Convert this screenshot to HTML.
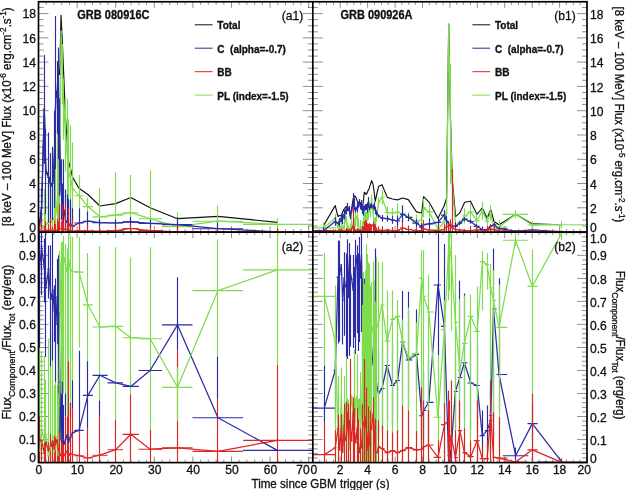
<!DOCTYPE html>
<html><head><meta charset="utf-8"><title>GRB flux</title>
<style>
html,body{margin:0;padding:0;background:#fff;}
body{width:626px;height:490px;overflow:hidden;font-family:"Liberation Sans",sans-serif;}
svg{display:block;will-change:transform;}
text{font-family:"Liberation Sans",sans-serif;fill:#111;stroke:#111;stroke-width:0.3px}
</style></head><body>
<svg width="626" height="490" viewBox="0 0 626 490">
<rect width="626" height="490" fill="#fff"/>
<defs>
<clipPath id="ca1"><rect x="38.5" y="1.75" width="274.3" height="230.35"/></clipPath>
<clipPath id="ca2"><rect x="38.5" y="232.1" width="274.3" height="230.50000000000003"/></clipPath>
<clipPath id="cb1"><rect x="312.8" y="1.75" width="274.2" height="230.35"/></clipPath>
<clipPath id="cb2"><rect x="312.8" y="232.1" width="274.2" height="230.50000000000003"/></clipPath>
</defs>
<path id="ticks" d="M38.5 462.6L38.5 456.6M38.5 1.8L38.5 7.8M38.5 232.1L38.5 238.1M38.5 232.1L38.5 226.1M46.2 462.6L46.2 459.6M46.2 1.8L46.2 4.8M46.2 232.1L46.2 235.1M46.2 232.1L46.2 229.1M53.9 462.6L53.9 459.6M53.9 1.8L53.9 4.8M53.9 232.1L53.9 235.1M53.9 232.1L53.9 229.1M61.7 462.6L61.7 459.6M61.7 1.8L61.7 4.8M61.7 232.1L61.7 235.1M61.7 232.1L61.7 229.1M69.4 462.6L69.4 459.6M69.4 1.8L69.4 4.8M69.4 232.1L69.4 235.1M69.4 232.1L69.4 229.1M77.1 462.6L77.1 456.6M77.1 1.8L77.1 7.8M77.1 232.1L77.1 238.1M77.1 232.1L77.1 226.1M84.8 462.6L84.8 459.6M84.8 1.8L84.8 4.8M84.8 232.1L84.8 235.1M84.8 232.1L84.8 229.1M92.5 462.6L92.5 459.6M92.5 1.8L92.5 4.8M92.5 232.1L92.5 235.1M92.5 232.1L92.5 229.1M100.3 462.6L100.3 459.6M100.3 1.8L100.3 4.8M100.3 232.1L100.3 235.1M100.3 232.1L100.3 229.1M108.0 462.6L108.0 459.6M108.0 1.8L108.0 4.8M108.0 232.1L108.0 235.1M108.0 232.1L108.0 229.1M115.7 462.6L115.7 456.6M115.7 1.8L115.7 7.8M115.7 232.1L115.7 238.1M115.7 232.1L115.7 226.1M123.4 462.6L123.4 459.6M123.4 1.8L123.4 4.8M123.4 232.1L123.4 235.1M123.4 232.1L123.4 229.1M131.1 462.6L131.1 459.6M131.1 1.8L131.1 4.8M131.1 232.1L131.1 235.1M131.1 232.1L131.1 229.1M138.9 462.6L138.9 459.6M138.9 1.8L138.9 4.8M138.9 232.1L138.9 235.1M138.9 232.1L138.9 229.1M146.6 462.6L146.6 459.6M146.6 1.8L146.6 4.8M146.6 232.1L146.6 235.1M146.6 232.1L146.6 229.1M154.3 462.6L154.3 456.6M154.3 1.8L154.3 7.8M154.3 232.1L154.3 238.1M154.3 232.1L154.3 226.1M162.0 462.6L162.0 459.6M162.0 1.8L162.0 4.8M162.0 232.1L162.0 235.1M162.0 232.1L162.0 229.1M169.7 462.6L169.7 459.6M169.7 1.8L169.7 4.8M169.7 232.1L169.7 235.1M169.7 232.1L169.7 229.1M177.5 462.6L177.5 459.6M177.5 1.8L177.5 4.8M177.5 232.1L177.5 235.1M177.5 232.1L177.5 229.1M185.2 462.6L185.2 459.6M185.2 1.8L185.2 4.8M185.2 232.1L185.2 235.1M185.2 232.1L185.2 229.1M192.9 462.6L192.9 456.6M192.9 1.8L192.9 7.8M192.9 232.1L192.9 238.1M192.9 232.1L192.9 226.1M200.6 462.6L200.6 459.6M200.6 1.8L200.6 4.8M200.6 232.1L200.6 235.1M200.6 232.1L200.6 229.1M208.3 462.6L208.3 459.6M208.3 1.8L208.3 4.8M208.3 232.1L208.3 235.1M208.3 232.1L208.3 229.1M216.1 462.6L216.1 459.6M216.1 1.8L216.1 4.8M216.1 232.1L216.1 235.1M216.1 232.1L216.1 229.1M223.8 462.6L223.8 459.6M223.8 1.8L223.8 4.8M223.8 232.1L223.8 235.1M223.8 232.1L223.8 229.1M231.5 462.6L231.5 456.6M231.5 1.8L231.5 7.8M231.5 232.1L231.5 238.1M231.5 232.1L231.5 226.1M239.2 462.6L239.2 459.6M239.2 1.8L239.2 4.8M239.2 232.1L239.2 235.1M239.2 232.1L239.2 229.1M246.9 462.6L246.9 459.6M246.9 1.8L246.9 4.8M246.9 232.1L246.9 235.1M246.9 232.1L246.9 229.1M254.7 462.6L254.7 459.6M254.7 1.8L254.7 4.8M254.7 232.1L254.7 235.1M254.7 232.1L254.7 229.1M262.4 462.6L262.4 459.6M262.4 1.8L262.4 4.8M262.4 232.1L262.4 235.1M262.4 232.1L262.4 229.1M270.1 462.6L270.1 456.6M270.1 1.8L270.1 7.8M270.1 232.1L270.1 238.1M270.1 232.1L270.1 226.1M277.8 462.6L277.8 459.6M277.8 1.8L277.8 4.8M277.8 232.1L277.8 235.1M277.8 232.1L277.8 229.1M285.5 462.6L285.5 459.6M285.5 1.8L285.5 4.8M285.5 232.1L285.5 235.1M285.5 232.1L285.5 229.1M293.3 462.6L293.3 459.6M293.3 1.8L293.3 4.8M293.3 232.1L293.3 235.1M293.3 232.1L293.3 229.1M301.0 462.6L301.0 459.6M301.0 1.8L301.0 4.8M301.0 232.1L301.0 235.1M301.0 232.1L301.0 229.1M308.7 462.6L308.7 456.6M308.7 1.8L308.7 7.8M308.7 232.1L308.7 238.1M308.7 232.1L308.7 226.1M312.8 462.6L312.8 456.6M312.8 1.8L312.8 7.8M312.8 232.1L312.8 238.1M312.8 232.1L312.8 226.1M319.7 462.6L319.7 459.6M319.7 1.8L319.7 4.8M319.7 232.1L319.7 235.1M319.7 232.1L319.7 229.1M326.5 462.6L326.5 459.6M326.5 1.8L326.5 4.8M326.5 232.1L326.5 235.1M326.5 232.1L326.5 229.1M333.4 462.6L333.4 459.6M333.4 1.8L333.4 4.8M333.4 232.1L333.4 235.1M333.4 232.1L333.4 229.1M340.2 462.6L340.2 456.6M340.2 1.8L340.2 7.8M340.2 232.1L340.2 238.1M340.2 232.1L340.2 226.1M347.1 462.6L347.1 459.6M347.1 1.8L347.1 4.8M347.1 232.1L347.1 235.1M347.1 232.1L347.1 229.1M353.9 462.6L353.9 459.6M353.9 1.8L353.9 4.8M353.9 232.1L353.9 235.1M353.9 232.1L353.9 229.1M360.8 462.6L360.8 459.6M360.8 1.8L360.8 4.8M360.8 232.1L360.8 235.1M360.8 232.1L360.8 229.1M367.6 462.6L367.6 456.6M367.6 1.8L367.6 7.8M367.6 232.1L367.6 238.1M367.6 232.1L367.6 226.1M374.5 462.6L374.5 459.6M374.5 1.8L374.5 4.8M374.5 232.1L374.5 235.1M374.5 232.1L374.5 229.1M381.4 462.6L381.4 459.6M381.4 1.8L381.4 4.8M381.4 232.1L381.4 235.1M381.4 232.1L381.4 229.1M388.2 462.6L388.2 459.6M388.2 1.8L388.2 4.8M388.2 232.1L388.2 235.1M388.2 232.1L388.2 229.1M395.1 462.6L395.1 456.6M395.1 1.8L395.1 7.8M395.1 232.1L395.1 238.1M395.1 232.1L395.1 226.1M401.9 462.6L401.9 459.6M401.9 1.8L401.9 4.8M401.9 232.1L401.9 235.1M401.9 232.1L401.9 229.1M408.8 462.6L408.8 459.6M408.8 1.8L408.8 4.8M408.8 232.1L408.8 235.1M408.8 232.1L408.8 229.1M415.6 462.6L415.6 459.6M415.6 1.8L415.6 4.8M415.6 232.1L415.6 235.1M415.6 232.1L415.6 229.1M422.5 462.6L422.5 456.6M422.5 1.8L422.5 7.8M422.5 232.1L422.5 238.1M422.5 232.1L422.5 226.1M429.3 462.6L429.3 459.6M429.3 1.8L429.3 4.8M429.3 232.1L429.3 235.1M429.3 232.1L429.3 229.1M436.2 462.6L436.2 459.6M436.2 1.8L436.2 4.8M436.2 232.1L436.2 235.1M436.2 232.1L436.2 229.1M443.0 462.6L443.0 459.6M443.0 1.8L443.0 4.8M443.0 232.1L443.0 235.1M443.0 232.1L443.0 229.1M449.9 462.6L449.9 456.6M449.9 1.8L449.9 7.8M449.9 232.1L449.9 238.1M449.9 232.1L449.9 226.1M456.8 462.6L456.8 459.6M456.8 1.8L456.8 4.8M456.8 232.1L456.8 235.1M456.8 232.1L456.8 229.1M463.6 462.6L463.6 459.6M463.6 1.8L463.6 4.8M463.6 232.1L463.6 235.1M463.6 232.1L463.6 229.1M470.5 462.6L470.5 459.6M470.5 1.8L470.5 4.8M470.5 232.1L470.5 235.1M470.5 232.1L470.5 229.1M477.3 462.6L477.3 456.6M477.3 1.8L477.3 7.8M477.3 232.1L477.3 238.1M477.3 232.1L477.3 226.1M484.2 462.6L484.2 459.6M484.2 1.8L484.2 4.8M484.2 232.1L484.2 235.1M484.2 232.1L484.2 229.1M491.0 462.6L491.0 459.6M491.0 1.8L491.0 4.8M491.0 232.1L491.0 235.1M491.0 232.1L491.0 229.1M497.9 462.6L497.9 459.6M497.9 1.8L497.9 4.8M497.9 232.1L497.9 235.1M497.9 232.1L497.9 229.1M504.7 462.6L504.7 456.6M504.7 1.8L504.7 7.8M504.7 232.1L504.7 238.1M504.7 232.1L504.7 226.1M511.6 462.6L511.6 459.6M511.6 1.8L511.6 4.8M511.6 232.1L511.6 235.1M511.6 232.1L511.6 229.1M518.5 462.6L518.5 459.6M518.5 1.8L518.5 4.8M518.5 232.1L518.5 235.1M518.5 232.1L518.5 229.1M525.3 462.6L525.3 459.6M525.3 1.8L525.3 4.8M525.3 232.1L525.3 235.1M525.3 232.1L525.3 229.1M532.2 462.6L532.2 456.6M532.2 1.8L532.2 7.8M532.2 232.1L532.2 238.1M532.2 232.1L532.2 226.1M539.0 462.6L539.0 459.6M539.0 1.8L539.0 4.8M539.0 232.1L539.0 235.1M539.0 232.1L539.0 229.1M545.9 462.6L545.9 459.6M545.9 1.8L545.9 4.8M545.9 232.1L545.9 235.1M545.9 232.1L545.9 229.1M552.7 462.6L552.7 459.6M552.7 1.8L552.7 4.8M552.7 232.1L552.7 235.1M552.7 232.1L552.7 229.1M559.6 462.6L559.6 456.6M559.6 1.8L559.6 7.8M559.6 232.1L559.6 238.1M559.6 232.1L559.6 226.1M566.4 462.6L566.4 459.6M566.4 1.8L566.4 4.8M566.4 232.1L566.4 235.1M566.4 232.1L566.4 229.1M573.3 462.6L573.3 459.6M573.3 1.8L573.3 4.8M573.3 232.1L573.3 235.1M573.3 232.1L573.3 229.1M580.1 462.6L580.1 459.6M580.1 1.8L580.1 4.8M580.1 232.1L580.1 235.1M580.1 232.1L580.1 229.1M587.0 462.6L587.0 456.6M587.0 1.8L587.0 7.8M587.0 232.1L587.0 238.1M587.0 232.1L587.0 226.1M38.5 232.1L48.5 232.1M312.8 232.1L302.8 232.1M312.8 232.1L322.8 232.1M587.0 232.1L577.0 232.1M38.5 226.0L43.5 226.0M312.8 226.0L307.8 226.0M312.8 226.0L317.8 226.0M587.0 226.0L582.0 226.0M38.5 220.0L43.5 220.0M312.8 220.0L307.8 220.0M312.8 220.0L317.8 220.0M587.0 220.0L582.0 220.0M38.5 213.9L43.5 213.9M312.8 213.9L307.8 213.9M312.8 213.9L317.8 213.9M587.0 213.9L582.0 213.9M38.5 207.8L48.5 207.8M312.8 207.8L302.8 207.8M312.8 207.8L322.8 207.8M587.0 207.8L577.0 207.8M38.5 201.8L43.5 201.8M312.8 201.8L307.8 201.8M312.8 201.8L317.8 201.8M587.0 201.8L582.0 201.8M38.5 195.7L43.5 195.7M312.8 195.7L307.8 195.7M312.8 195.7L317.8 195.7M587.0 195.7L582.0 195.7M38.5 189.6L43.5 189.6M312.8 189.6L307.8 189.6M312.8 189.6L317.8 189.6M587.0 189.6L582.0 189.6M38.5 183.5L48.5 183.5M312.8 183.5L302.8 183.5M312.8 183.5L322.8 183.5M587.0 183.5L577.0 183.5M38.5 177.5L43.5 177.5M312.8 177.5L307.8 177.5M312.8 177.5L317.8 177.5M587.0 177.5L582.0 177.5M38.5 171.4L43.5 171.4M312.8 171.4L307.8 171.4M312.8 171.4L317.8 171.4M587.0 171.4L582.0 171.4M38.5 165.3L43.5 165.3M312.8 165.3L307.8 165.3M312.8 165.3L317.8 165.3M587.0 165.3L582.0 165.3M38.5 159.3L48.5 159.3M312.8 159.3L302.8 159.3M312.8 159.3L322.8 159.3M587.0 159.3L577.0 159.3M38.5 153.2L43.5 153.2M312.8 153.2L307.8 153.2M312.8 153.2L317.8 153.2M587.0 153.2L582.0 153.2M38.5 147.1L43.5 147.1M312.8 147.1L307.8 147.1M312.8 147.1L317.8 147.1M587.0 147.1L582.0 147.1M38.5 141.0L43.5 141.0M312.8 141.0L307.8 141.0M312.8 141.0L317.8 141.0M587.0 141.0L582.0 141.0M38.5 135.0L48.5 135.0M312.8 135.0L302.8 135.0M312.8 135.0L322.8 135.0M587.0 135.0L577.0 135.0M38.5 128.9L43.5 128.9M312.8 128.9L307.8 128.9M312.8 128.9L317.8 128.9M587.0 128.9L582.0 128.9M38.5 122.8L43.5 122.8M312.8 122.8L307.8 122.8M312.8 122.8L317.8 122.8M587.0 122.8L582.0 122.8M38.5 116.8L43.5 116.8M312.8 116.8L307.8 116.8M312.8 116.8L317.8 116.8M587.0 116.8L582.0 116.8M38.5 110.7L48.5 110.7M312.8 110.7L302.8 110.7M312.8 110.7L322.8 110.7M587.0 110.7L577.0 110.7M38.5 104.6L43.5 104.6M312.8 104.6L307.8 104.6M312.8 104.6L317.8 104.6M587.0 104.6L582.0 104.6M38.5 98.6L43.5 98.6M312.8 98.6L307.8 98.6M312.8 98.6L317.8 98.6M587.0 98.6L582.0 98.6M38.5 92.5L43.5 92.5M312.8 92.5L307.8 92.5M312.8 92.5L317.8 92.5M587.0 92.5L582.0 92.5M38.5 86.4L48.5 86.4M312.8 86.4L302.8 86.4M312.8 86.4L322.8 86.4M587.0 86.4L577.0 86.4M38.5 80.3L43.5 80.3M312.8 80.3L307.8 80.3M312.8 80.3L317.8 80.3M587.0 80.3L582.0 80.3M38.5 74.3L43.5 74.3M312.8 74.3L307.8 74.3M312.8 74.3L317.8 74.3M587.0 74.3L582.0 74.3M38.5 68.2L43.5 68.2M312.8 68.2L307.8 68.2M312.8 68.2L317.8 68.2M587.0 68.2L582.0 68.2M38.5 62.1L48.5 62.1M312.8 62.1L302.8 62.1M312.8 62.1L322.8 62.1M587.0 62.1L577.0 62.1M38.5 56.1L43.5 56.1M312.8 56.1L307.8 56.1M312.8 56.1L317.8 56.1M587.0 56.1L582.0 56.1M38.5 50.0L43.5 50.0M312.8 50.0L307.8 50.0M312.8 50.0L317.8 50.0M587.0 50.0L582.0 50.0M38.5 43.9L43.5 43.9M312.8 43.9L307.8 43.9M312.8 43.9L317.8 43.9M587.0 43.9L582.0 43.9M38.5 37.9L48.5 37.9M312.8 37.9L302.8 37.9M312.8 37.9L322.8 37.9M587.0 37.9L577.0 37.9M38.5 31.8L43.5 31.8M312.8 31.8L307.8 31.8M312.8 31.8L317.8 31.8M587.0 31.8L582.0 31.8M38.5 25.7L43.5 25.7M312.8 25.7L307.8 25.7M312.8 25.7L317.8 25.7M587.0 25.7L582.0 25.7M38.5 19.6L43.5 19.6M312.8 19.6L307.8 19.6M312.8 19.6L317.8 19.6M587.0 19.6L582.0 19.6M38.5 13.6L48.5 13.6M312.8 13.6L302.8 13.6M312.8 13.6L322.8 13.6M587.0 13.6L577.0 13.6M38.5 7.5L43.5 7.5M312.8 7.5L307.8 7.5M312.8 7.5L317.8 7.5M587.0 7.5L582.0 7.5M38.5 1.4L43.5 1.4M312.8 1.4L307.8 1.4M312.8 1.4L317.8 1.4M587.0 1.4L582.0 1.4M38.5 462.6L48.5 462.6M312.8 462.6L308.3 462.6M312.8 462.6L322.8 462.6M587.0 462.6L577.0 462.6M38.5 458.0L43.5 458.0M312.8 458.0L308.3 458.0M312.8 458.0L317.8 458.0M587.0 458.0L582.0 458.0M38.5 453.4L43.5 453.4M312.8 453.4L308.3 453.4M312.8 453.4L317.8 453.4M587.0 453.4L582.0 453.4M38.5 448.8L43.5 448.8M312.8 448.8L308.3 448.8M312.8 448.8L317.8 448.8M587.0 448.8L582.0 448.8M38.5 444.2L43.5 444.2M312.8 444.2L308.3 444.2M312.8 444.2L317.8 444.2M587.0 444.2L582.0 444.2M38.5 439.6L48.5 439.6M312.8 439.6L308.3 439.6M312.8 439.6L322.8 439.6M587.0 439.6L577.0 439.6M38.5 435.0L43.5 435.0M312.8 435.0L308.3 435.0M312.8 435.0L317.8 435.0M587.0 435.0L582.0 435.0M38.5 430.4L43.5 430.4M312.8 430.4L308.3 430.4M312.8 430.4L317.8 430.4M587.0 430.4L582.0 430.4M38.5 425.8L43.5 425.8M312.8 425.8L308.3 425.8M312.8 425.8L317.8 425.8M587.0 425.8L582.0 425.8M38.5 421.1L43.5 421.1M312.8 421.1L308.3 421.1M312.8 421.1L317.8 421.1M587.0 421.1L582.0 421.1M38.5 416.5L48.5 416.5M312.8 416.5L308.3 416.5M312.8 416.5L322.8 416.5M587.0 416.5L577.0 416.5M38.5 411.9L43.5 411.9M312.8 411.9L308.3 411.9M312.8 411.9L317.8 411.9M587.0 411.9L582.0 411.9M38.5 407.3L43.5 407.3M312.8 407.3L308.3 407.3M312.8 407.3L317.8 407.3M587.0 407.3L582.0 407.3M38.5 402.7L43.5 402.7M312.8 402.7L308.3 402.7M312.8 402.7L317.8 402.7M587.0 402.7L582.0 402.7M38.5 398.1L43.5 398.1M312.8 398.1L308.3 398.1M312.8 398.1L317.8 398.1M587.0 398.1L582.0 398.1M38.5 393.5L48.5 393.5M312.8 393.5L308.3 393.5M312.8 393.5L322.8 393.5M587.0 393.5L577.0 393.5M38.5 388.9L43.5 388.9M312.8 388.9L308.3 388.9M312.8 388.9L317.8 388.9M587.0 388.9L582.0 388.9M38.5 384.3L43.5 384.3M312.8 384.3L308.3 384.3M312.8 384.3L317.8 384.3M587.0 384.3L582.0 384.3M38.5 379.7L43.5 379.7M312.8 379.7L308.3 379.7M312.8 379.7L317.8 379.7M587.0 379.7L582.0 379.7M38.5 375.1L43.5 375.1M312.8 375.1L308.3 375.1M312.8 375.1L317.8 375.1M587.0 375.1L582.0 375.1M38.5 370.5L48.5 370.5M312.8 370.5L308.3 370.5M312.8 370.5L322.8 370.5M587.0 370.5L577.0 370.5M38.5 365.9L43.5 365.9M312.8 365.9L308.3 365.9M312.8 365.9L317.8 365.9M587.0 365.9L582.0 365.9M38.5 361.3L43.5 361.3M312.8 361.3L308.3 361.3M312.8 361.3L317.8 361.3M587.0 361.3L582.0 361.3M38.5 356.7L43.5 356.7M312.8 356.7L308.3 356.7M312.8 356.7L317.8 356.7M587.0 356.7L582.0 356.7M38.5 352.1L43.5 352.1M312.8 352.1L308.3 352.1M312.8 352.1L317.8 352.1M587.0 352.1L582.0 352.1M38.5 347.5L48.5 347.5M312.8 347.5L308.3 347.5M312.8 347.5L322.8 347.5M587.0 347.5L577.0 347.5M38.5 342.8L43.5 342.8M312.8 342.8L308.3 342.8M312.8 342.8L317.8 342.8M587.0 342.8L582.0 342.8M38.5 338.2L43.5 338.2M312.8 338.2L308.3 338.2M312.8 338.2L317.8 338.2M587.0 338.2L582.0 338.2M38.5 333.6L43.5 333.6M312.8 333.6L308.3 333.6M312.8 333.6L317.8 333.6M587.0 333.6L582.0 333.6M38.5 329.0L43.5 329.0M312.8 329.0L308.3 329.0M312.8 329.0L317.8 329.0M587.0 329.0L582.0 329.0M38.5 324.4L48.5 324.4M312.8 324.4L308.3 324.4M312.8 324.4L322.8 324.4M587.0 324.4L577.0 324.4M38.5 319.8L43.5 319.8M312.8 319.8L308.3 319.8M312.8 319.8L317.8 319.8M587.0 319.8L582.0 319.8M38.5 315.2L43.5 315.2M312.8 315.2L308.3 315.2M312.8 315.2L317.8 315.2M587.0 315.2L582.0 315.2M38.5 310.6L43.5 310.6M312.8 310.6L308.3 310.6M312.8 310.6L317.8 310.6M587.0 310.6L582.0 310.6M38.5 306.0L43.5 306.0M312.8 306.0L308.3 306.0M312.8 306.0L317.8 306.0M587.0 306.0L582.0 306.0M38.5 301.4L48.5 301.4M312.8 301.4L308.3 301.4M312.8 301.4L322.8 301.4M587.0 301.4L577.0 301.4M38.5 296.8L43.5 296.8M312.8 296.8L308.3 296.8M312.8 296.8L317.8 296.8M587.0 296.8L582.0 296.8M38.5 292.2L43.5 292.2M312.8 292.2L308.3 292.2M312.8 292.2L317.8 292.2M587.0 292.2L582.0 292.2M38.5 287.6L43.5 287.6M312.8 287.6L308.3 287.6M312.8 287.6L317.8 287.6M587.0 287.6L582.0 287.6M38.5 283.0L43.5 283.0M312.8 283.0L308.3 283.0M312.8 283.0L317.8 283.0M587.0 283.0L582.0 283.0M38.5 278.4L48.5 278.4M312.8 278.4L308.3 278.4M312.8 278.4L322.8 278.4M587.0 278.4L577.0 278.4M38.5 273.8L43.5 273.8M312.8 273.8L308.3 273.8M312.8 273.8L317.8 273.8M587.0 273.8L582.0 273.8M38.5 269.1L43.5 269.1M312.8 269.1L308.3 269.1M312.8 269.1L317.8 269.1M587.0 269.1L582.0 269.1M38.5 264.5L43.5 264.5M312.8 264.5L308.3 264.5M312.8 264.5L317.8 264.5M587.0 264.5L582.0 264.5M38.5 259.9L43.5 259.9M312.8 259.9L308.3 259.9M312.8 259.9L317.8 259.9M587.0 259.9L582.0 259.9M38.5 255.3L48.5 255.3M312.8 255.3L308.3 255.3M312.8 255.3L322.8 255.3M587.0 255.3L577.0 255.3M38.5 250.7L43.5 250.7M312.8 250.7L308.3 250.7M312.8 250.7L317.8 250.7M587.0 250.7L582.0 250.7M38.5 246.1L43.5 246.1M312.8 246.1L308.3 246.1M312.8 246.1L317.8 246.1M587.0 246.1L582.0 246.1M38.5 241.5L43.5 241.5M312.8 241.5L308.3 241.5M312.8 241.5L317.8 241.5M587.0 241.5L582.0 241.5M38.5 236.9L43.5 236.9M312.8 236.9L308.3 236.9M312.8 236.9L317.8 236.9M587.0 236.9L582.0 236.9M38.5 232.3L48.5 232.3M312.8 232.3L308.3 232.3M312.8 232.3L322.8 232.3M587.0 232.3L577.0 232.3" stroke="#444" stroke-width="0.6" fill="none"/>
<g clip-path="url(#ca1)"><polyline points="38.5,230.9 39.5,224.6 41.6,206.4 44.3,108.0 45.8,169.9 48.5,176.0 50.9,184.5 52.8,182.1 54.3,157.8 55.9,91.0 57.2,95.9 58.1,64.3 59.0,74.3 59.9,74.3 61.0,15.4 62.4,43.9 64.0,81.6 65.5,118.0 67.1,139.8 68.6,161.7 70.3,167.8 72.7,177.5 79.0,188.2 87.9,194.5 99.9,206.0 115.7,203.6 130.8,197.5 150.1,207.8 177.5,218.7 218.0,216.3 277.4,222.4" fill="none" stroke="#111" stroke-width="1.2" stroke-linejoin="round"/><polyline points="39.5,230.9 41.6,228.5 44.3,226.0 45.8,224.8 48.5,222.4 50.9,222.4 52.8,220.0 54.3,217.5 55.9,213.9 57.2,201.8 58.1,183.5 59.0,207.8 59.9,171.4 61.0,31.8 62.4,74.3 64.0,109.5 65.5,135.0 67.1,153.2 68.6,171.4 70.3,177.5 72.7,188.8 79.0,195.7 87.9,206.6 99.9,216.8 115.7,215.1 130.8,212.7 150.1,218.7 177.5,226.6 218.0,221.2 277.4,224.3" fill="none" stroke="#7fdc4e" stroke-width="1.25" stroke-linejoin="round"/><line x1="38.5" y1="230.9" x2="40.5" y2="230.9" stroke="#7fdc4e" stroke-width="1.15" /><line x1="39.5" y1="232.1" x2="39.5" y2="221.2" stroke="#7fdc4e" stroke-width="1.15" /><line x1="40.5" y1="228.5" x2="42.9" y2="228.5" stroke="#7fdc4e" stroke-width="1.15" /><line x1="41.5" y1="232.1" x2="41.5" y2="210.2" stroke="#7fdc4e" stroke-width="1.15" /><line x1="42.9" y1="226.0" x2="45.1" y2="226.0" stroke="#7fdc4e" stroke-width="1.15" /><line x1="44.5" y1="232.1" x2="44.5" y2="189.6" stroke="#7fdc4e" stroke-width="1.15" /><line x1="45.1" y1="224.8" x2="47.2" y2="224.8" stroke="#7fdc4e" stroke-width="1.15" /><line x1="45.5" y1="232.1" x2="45.5" y2="194.5" stroke="#7fdc4e" stroke-width="1.15" /><line x1="47.2" y1="222.4" x2="49.7" y2="222.4" stroke="#7fdc4e" stroke-width="1.15" /><line x1="48.5" y1="232.1" x2="48.5" y2="186.0" stroke="#7fdc4e" stroke-width="1.15" /><line x1="49.7" y1="222.4" x2="51.8" y2="222.4" stroke="#7fdc4e" stroke-width="1.15" /><line x1="50.5" y1="232.1" x2="50.5" y2="179.9" stroke="#7fdc4e" stroke-width="1.15" /><line x1="51.8" y1="220.0" x2="53.6" y2="220.0" stroke="#7fdc4e" stroke-width="1.15" /><line x1="52.5" y1="232.1" x2="52.5" y2="165.3" stroke="#7fdc4e" stroke-width="1.15" /><line x1="53.6" y1="217.5" x2="55.1" y2="217.5" stroke="#7fdc4e" stroke-width="1.15" /><line x1="54.5" y1="232.1" x2="54.5" y2="156.8" stroke="#7fdc4e" stroke-width="1.15" /><line x1="55.1" y1="213.9" x2="56.5" y2="213.9" stroke="#7fdc4e" stroke-width="1.15" /><line x1="55.5" y1="232.1" x2="55.5" y2="147.1" stroke="#7fdc4e" stroke-width="1.15" /><line x1="56.5" y1="201.8" x2="57.6" y2="201.8" stroke="#7fdc4e" stroke-width="1.15" /><line x1="57.5" y1="232.1" x2="57.5" y2="128.9" stroke="#7fdc4e" stroke-width="1.15" /><line x1="57.6" y1="183.5" x2="58.5" y2="183.5" stroke="#7fdc4e" stroke-width="1.15" /><line x1="58.5" y1="232.1" x2="58.5" y2="104.6" stroke="#7fdc4e" stroke-width="1.15" /><line x1="58.5" y1="207.8" x2="59.4" y2="207.8" stroke="#7fdc4e" stroke-width="1.15" /><line x1="58.5" y1="232.1" x2="58.5" y2="159.3" stroke="#7fdc4e" stroke-width="1.15" /><line x1="59.4" y1="171.4" x2="60.5" y2="171.4" stroke="#7fdc4e" stroke-width="1.15" /><line x1="59.5" y1="220.0" x2="59.5" y2="122.8" stroke="#7fdc4e" stroke-width="1.15" /><line x1="60.5" y1="31.8" x2="61.7" y2="31.8" stroke="#7fdc4e" stroke-width="1.15" /><line x1="61.5" y1="33.0" x2="61.5" y2="30.6" stroke="#7fdc4e" stroke-width="1.15" /><line x1="61.7" y1="74.3" x2="63.2" y2="74.3" stroke="#7fdc4e" stroke-width="1.15" /><line x1="62.5" y1="104.6" x2="62.5" y2="43.9" stroke="#7fdc4e" stroke-width="1.15" /><line x1="63.2" y1="109.5" x2="64.7" y2="109.5" stroke="#7fdc4e" stroke-width="1.15" /><line x1="63.5" y1="139.8" x2="63.5" y2="79.1" stroke="#7fdc4e" stroke-width="1.15" /><line x1="64.7" y1="135.0" x2="66.3" y2="135.0" stroke="#7fdc4e" stroke-width="1.15" /><line x1="65.5" y1="171.4" x2="65.5" y2="98.6" stroke="#7fdc4e" stroke-width="1.15" /><line x1="66.3" y1="153.2" x2="67.8" y2="153.2" stroke="#7fdc4e" stroke-width="1.15" /><line x1="67.5" y1="207.8" x2="67.5" y2="98.6" stroke="#7fdc4e" stroke-width="1.15" /><line x1="67.8" y1="171.4" x2="69.5" y2="171.4" stroke="#7fdc4e" stroke-width="1.15" /><line x1="68.5" y1="223.6" x2="68.5" y2="119.2" stroke="#7fdc4e" stroke-width="1.15" /><line x1="69.5" y1="177.5" x2="71.5" y2="177.5" stroke="#7fdc4e" stroke-width="1.15" /><line x1="70.5" y1="229.7" x2="70.5" y2="125.3" stroke="#7fdc4e" stroke-width="1.15" /><line x1="71.5" y1="188.8" x2="74.4" y2="188.8" stroke="#7fdc4e" stroke-width="1.15" /><line x1="72.5" y1="232.1" x2="72.5" y2="142.6" stroke="#7fdc4e" stroke-width="1.15" /><line x1="74.4" y1="195.7" x2="83.7" y2="195.7" stroke="#7fdc4e" stroke-width="1.15" /><line x1="79.5" y1="216.3" x2="79.5" y2="175.0" stroke="#7fdc4e" stroke-width="1.15" /><line x1="82.9" y1="206.6" x2="92.9" y2="206.6" stroke="#7fdc4e" stroke-width="1.15" /><line x1="87.5" y1="215.1" x2="87.5" y2="198.1" stroke="#7fdc4e" stroke-width="1.15" /><line x1="92.5" y1="216.8" x2="107.6" y2="216.8" stroke="#7fdc4e" stroke-width="1.15" /><line x1="99.5" y1="232.1" x2="99.5" y2="187.7" stroke="#7fdc4e" stroke-width="1.15" /><line x1="107.6" y1="215.1" x2="123.0" y2="215.1" stroke="#7fdc4e" stroke-width="1.15" /><line x1="115.5" y1="232.1" x2="115.5" y2="172.6" stroke="#7fdc4e" stroke-width="1.15" /><line x1="122.6" y1="212.7" x2="138.9" y2="212.7" stroke="#7fdc4e" stroke-width="1.15" /><line x1="130.5" y1="232.1" x2="130.5" y2="175.0" stroke="#7fdc4e" stroke-width="1.15" /><line x1="138.5" y1="218.7" x2="162.0" y2="218.7" stroke="#7fdc4e" stroke-width="1.15" /><line x1="150.5" y1="232.1" x2="150.5" y2="170.2" stroke="#7fdc4e" stroke-width="1.15" /><line x1="162.0" y1="226.6" x2="192.5" y2="226.6" stroke="#7fdc4e" stroke-width="1.15" /><line x1="177.5" y1="232.1" x2="177.5" y2="212.1" stroke="#7fdc4e" stroke-width="1.15" /><line x1="192.5" y1="221.2" x2="243.1" y2="221.2" stroke="#7fdc4e" stroke-width="1.15" /><line x1="217.5" y1="232.1" x2="217.5" y2="205.4" stroke="#7fdc4e" stroke-width="1.15" /><line x1="243.1" y1="224.3" x2="314.5" y2="224.3" stroke="#7fdc4e" stroke-width="1.15" /><line x1="277.5" y1="230.4" x2="277.5" y2="218.3" stroke="#7fdc4e" stroke-width="1.15" /><polyline points="39.5,226.0 41.6,207.8 44.3,109.5 45.8,171.4 48.5,177.5 50.9,186.0 52.8,183.5 54.3,159.3 55.9,92.5 57.2,97.3 58.1,65.8 59.0,110.7 59.9,147.1 61.0,189.6 62.4,207.8 64.0,210.2 65.5,220.0 67.1,222.4 68.6,226.0 70.3,223.8 72.7,226.4 79.0,223.0 87.9,221.2 99.9,222.6 115.7,223.0 130.8,221.8 150.1,223.4 177.5,224.6 218.0,228.7 277.4,231.9" fill="none" stroke="#2b2ba6" stroke-width="1.25" stroke-linejoin="round"/><line x1="38.5" y1="226.0" x2="40.5" y2="226.0" stroke="#2b2ba6" stroke-width="1.15" /><line x1="39.5" y1="232.1" x2="39.5" y2="218.7" stroke="#2b2ba6" stroke-width="1.15" /><line x1="40.5" y1="207.8" x2="42.9" y2="207.8" stroke="#2b2ba6" stroke-width="1.15" /><line x1="41.5" y1="226.0" x2="41.5" y2="189.6" stroke="#2b2ba6" stroke-width="1.15" /><line x1="42.9" y1="109.5" x2="45.1" y2="109.5" stroke="#2b2ba6" stroke-width="1.15" /><line x1="44.5" y1="164.1" x2="44.5" y2="54.9" stroke="#2b2ba6" stroke-width="1.15" /><line x1="45.1" y1="171.4" x2="47.2" y2="171.4" stroke="#2b2ba6" stroke-width="1.15" /><line x1="45.5" y1="213.9" x2="45.5" y2="128.9" stroke="#2b2ba6" stroke-width="1.15" /><line x1="47.2" y1="177.5" x2="49.7" y2="177.5" stroke="#2b2ba6" stroke-width="1.15" /><line x1="48.5" y1="222.4" x2="48.5" y2="132.6" stroke="#2b2ba6" stroke-width="1.15" /><line x1="49.7" y1="186.0" x2="51.8" y2="186.0" stroke="#2b2ba6" stroke-width="1.15" /><line x1="50.5" y1="218.7" x2="50.5" y2="153.2" stroke="#2b2ba6" stroke-width="1.15" /><line x1="51.8" y1="183.5" x2="53.6" y2="183.5" stroke="#2b2ba6" stroke-width="1.15" /><line x1="52.5" y1="220.0" x2="52.5" y2="147.1" stroke="#2b2ba6" stroke-width="1.15" /><line x1="53.6" y1="159.3" x2="55.1" y2="159.3" stroke="#2b2ba6" stroke-width="1.15" /><line x1="54.5" y1="207.8" x2="54.5" y2="110.7" stroke="#2b2ba6" stroke-width="1.15" /><line x1="55.1" y1="92.5" x2="56.5" y2="92.5" stroke="#2b2ba6" stroke-width="1.15" /><line x1="55.5" y1="169.0" x2="55.5" y2="16.0" stroke="#2b2ba6" stroke-width="1.15" /><line x1="56.5" y1="97.3" x2="57.6" y2="97.3" stroke="#2b2ba6" stroke-width="1.15" /><line x1="57.5" y1="133.8" x2="57.5" y2="60.9" stroke="#2b2ba6" stroke-width="1.15" /><line x1="57.6" y1="65.8" x2="58.5" y2="65.8" stroke="#2b2ba6" stroke-width="1.15" /><line x1="58.5" y1="84.0" x2="58.5" y2="47.6" stroke="#2b2ba6" stroke-width="1.15" /><line x1="58.5" y1="110.7" x2="59.4" y2="110.7" stroke="#2b2ba6" stroke-width="1.15" /><line x1="58.5" y1="159.3" x2="58.5" y2="62.1" stroke="#2b2ba6" stroke-width="1.15" /><line x1="59.4" y1="147.1" x2="60.5" y2="147.1" stroke="#2b2ba6" stroke-width="1.15" /><line x1="59.5" y1="195.7" x2="59.5" y2="98.6" stroke="#2b2ba6" stroke-width="1.15" /><line x1="60.5" y1="189.6" x2="61.7" y2="189.6" stroke="#2b2ba6" stroke-width="1.15" /><line x1="61.5" y1="220.0" x2="61.5" y2="159.3" stroke="#2b2ba6" stroke-width="1.15" /><line x1="61.7" y1="207.8" x2="63.2" y2="207.8" stroke="#2b2ba6" stroke-width="1.15" /><line x1="62.5" y1="232.1" x2="62.5" y2="183.5" stroke="#2b2ba6" stroke-width="1.15" /><line x1="63.2" y1="210.2" x2="64.7" y2="210.2" stroke="#2b2ba6" stroke-width="1.15" /><line x1="63.5" y1="232.1" x2="63.5" y2="159.3" stroke="#2b2ba6" stroke-width="1.15" /><line x1="64.7" y1="220.0" x2="66.3" y2="220.0" stroke="#2b2ba6" stroke-width="1.15" /><line x1="65.5" y1="232.1" x2="65.5" y2="189.6" stroke="#2b2ba6" stroke-width="1.15" /><line x1="66.3" y1="222.4" x2="67.8" y2="222.4" stroke="#2b2ba6" stroke-width="1.15" /><line x1="67.5" y1="232.1" x2="67.5" y2="194.5" stroke="#2b2ba6" stroke-width="1.15" /><line x1="67.8" y1="226.0" x2="69.5" y2="226.0" stroke="#2b2ba6" stroke-width="1.15" /><line x1="68.5" y1="232.1" x2="68.5" y2="199.3" stroke="#2b2ba6" stroke-width="1.15" /><line x1="69.5" y1="223.8" x2="71.5" y2="223.8" stroke="#2b2ba6" stroke-width="1.15" /><line x1="70.5" y1="232.1" x2="70.5" y2="199.6" stroke="#2b2ba6" stroke-width="1.15" /><line x1="71.5" y1="226.4" x2="74.4" y2="226.4" stroke="#2b2ba6" stroke-width="1.15" /><line x1="72.5" y1="232.1" x2="72.5" y2="208.2" stroke="#2b2ba6" stroke-width="1.15" /><line x1="74.4" y1="223.0" x2="83.7" y2="223.0" stroke="#2b2ba6" stroke-width="1.15" /><line x1="79.5" y1="232.1" x2="79.5" y2="208.4" stroke="#2b2ba6" stroke-width="1.15" /><line x1="82.9" y1="221.2" x2="92.9" y2="221.2" stroke="#2b2ba6" stroke-width="1.15" /><line x1="87.5" y1="230.9" x2="87.5" y2="211.5" stroke="#2b2ba6" stroke-width="1.15" /><line x1="92.5" y1="222.6" x2="107.6" y2="222.6" stroke="#2b2ba6" stroke-width="1.15" /><line x1="99.5" y1="226.3" x2="99.5" y2="219.0" stroke="#2b2ba6" stroke-width="1.15" /><line x1="107.6" y1="223.0" x2="123.0" y2="223.0" stroke="#2b2ba6" stroke-width="1.15" /><line x1="115.5" y1="226.6" x2="115.5" y2="219.4" stroke="#2b2ba6" stroke-width="1.15" /><line x1="122.6" y1="221.8" x2="138.9" y2="221.8" stroke="#2b2ba6" stroke-width="1.15" /><line x1="130.5" y1="226.6" x2="130.5" y2="216.9" stroke="#2b2ba6" stroke-width="1.15" /><line x1="138.5" y1="223.4" x2="162.0" y2="223.4" stroke="#2b2ba6" stroke-width="1.15" /><line x1="150.5" y1="227.0" x2="150.5" y2="219.7" stroke="#2b2ba6" stroke-width="1.15" /><line x1="162.0" y1="224.6" x2="192.5" y2="224.6" stroke="#2b2ba6" stroke-width="1.15" /><line x1="177.5" y1="231.9" x2="177.5" y2="217.3" stroke="#2b2ba6" stroke-width="1.15" /><line x1="192.5" y1="228.7" x2="243.1" y2="228.7" stroke="#2b2ba6" stroke-width="1.15" /><line x1="217.5" y1="232.1" x2="217.5" y2="222.6" stroke="#2b2ba6" stroke-width="1.15" /><line x1="243.1" y1="231.9" x2="314.5" y2="231.9" stroke="#2b2ba6" stroke-width="1.15" /><line x1="277.5" y1="232.1" x2="277.5" y2="230.6" stroke="#2b2ba6" stroke-width="1.15" /><polyline points="39.5,231.7 41.6,231.0 44.3,230.2 45.8,230.6 48.5,230.4 50.9,230.2 52.8,230.6 54.3,230.4 55.9,230.2 57.2,230.6 58.1,230.4 59.0,228.7 59.9,228.5 61.0,228.5 62.4,228.7 64.0,229.1 65.5,229.3 67.1,229.7 68.6,230.3 70.3,230.9 72.7,231.3 79.0,230.9 87.9,231.1 99.9,231.4 115.7,230.6 130.8,228.5 150.1,230.6 177.5,231.9 218.0,231.9 277.4,232.0" fill="none" stroke="#dc2626" stroke-width="1.25" stroke-linejoin="round"/><line x1="38.5" y1="231.7" x2="40.5" y2="231.7" stroke="#dc2626" stroke-width="1.15" /><line x1="39.5" y1="232.1" x2="39.5" y2="225.7" stroke="#dc2626" stroke-width="1.15" /><line x1="40.5" y1="231.0" x2="42.9" y2="231.0" stroke="#dc2626" stroke-width="1.15" /><line x1="41.5" y1="232.1" x2="41.5" y2="218.9" stroke="#dc2626" stroke-width="1.15" /><line x1="42.9" y1="230.2" x2="45.1" y2="230.2" stroke="#dc2626" stroke-width="1.15" /><line x1="44.5" y1="232.1" x2="44.5" y2="225.9" stroke="#dc2626" stroke-width="1.15" /><line x1="45.1" y1="230.6" x2="47.2" y2="230.6" stroke="#dc2626" stroke-width="1.15" /><line x1="45.5" y1="232.1" x2="45.5" y2="220.9" stroke="#dc2626" stroke-width="1.15" /><line x1="47.2" y1="230.4" x2="49.7" y2="230.4" stroke="#dc2626" stroke-width="1.15" /><line x1="48.5" y1="232.1" x2="48.5" y2="224.3" stroke="#dc2626" stroke-width="1.15" /><line x1="49.7" y1="230.2" x2="51.8" y2="230.2" stroke="#dc2626" stroke-width="1.15" /><line x1="50.5" y1="232.1" x2="50.5" y2="218.0" stroke="#dc2626" stroke-width="1.15" /><line x1="51.8" y1="230.6" x2="53.6" y2="230.6" stroke="#dc2626" stroke-width="1.15" /><line x1="52.5" y1="232.1" x2="52.5" y2="226.4" stroke="#dc2626" stroke-width="1.15" /><line x1="53.6" y1="230.4" x2="55.1" y2="230.4" stroke="#dc2626" stroke-width="1.15" /><line x1="54.5" y1="232.1" x2="54.5" y2="220.7" stroke="#dc2626" stroke-width="1.15" /><line x1="55.1" y1="230.2" x2="56.5" y2="230.2" stroke="#dc2626" stroke-width="1.15" /><line x1="55.5" y1="232.1" x2="55.5" y2="224.1" stroke="#dc2626" stroke-width="1.15" /><line x1="56.5" y1="230.6" x2="57.6" y2="230.6" stroke="#dc2626" stroke-width="1.15" /><line x1="57.5" y1="232.1" x2="57.5" y2="218.5" stroke="#dc2626" stroke-width="1.15" /><line x1="57.6" y1="230.4" x2="58.5" y2="230.4" stroke="#dc2626" stroke-width="1.15" /><line x1="58.5" y1="232.1" x2="58.5" y2="226.2" stroke="#dc2626" stroke-width="1.15" /><line x1="58.5" y1="228.7" x2="59.4" y2="228.7" stroke="#dc2626" stroke-width="1.15" /><line x1="58.5" y1="232.1" x2="58.5" y2="221.4" stroke="#dc2626" stroke-width="1.15" /><line x1="59.4" y1="228.5" x2="60.5" y2="228.5" stroke="#dc2626" stroke-width="1.15" /><line x1="59.5" y1="232.1" x2="59.5" y2="204.2" stroke="#dc2626" stroke-width="1.15" /><line x1="60.5" y1="228.5" x2="61.7" y2="228.5" stroke="#dc2626" stroke-width="1.15" /><line x1="61.5" y1="232.1" x2="61.5" y2="221.2" stroke="#dc2626" stroke-width="1.15" /><line x1="61.7" y1="228.7" x2="63.2" y2="228.7" stroke="#dc2626" stroke-width="1.15" /><line x1="62.5" y1="232.1" x2="62.5" y2="204.4" stroke="#dc2626" stroke-width="1.15" /><line x1="63.2" y1="229.1" x2="64.7" y2="229.1" stroke="#dc2626" stroke-width="1.15" /><line x1="63.5" y1="232.1" x2="63.5" y2="221.8" stroke="#dc2626" stroke-width="1.15" /><line x1="64.7" y1="229.3" x2="66.3" y2="229.3" stroke="#dc2626" stroke-width="1.15" /><line x1="65.5" y1="232.1" x2="65.5" y2="205.0" stroke="#dc2626" stroke-width="1.15" /><line x1="66.3" y1="229.7" x2="67.8" y2="229.7" stroke="#dc2626" stroke-width="1.15" /><line x1="67.5" y1="232.1" x2="67.5" y2="222.4" stroke="#dc2626" stroke-width="1.15" /><line x1="67.8" y1="230.3" x2="69.5" y2="230.3" stroke="#dc2626" stroke-width="1.15" /><line x1="68.5" y1="232.1" x2="68.5" y2="208.4" stroke="#dc2626" stroke-width="1.15" /><line x1="69.5" y1="230.9" x2="71.5" y2="230.9" stroke="#dc2626" stroke-width="1.15" /><line x1="70.5" y1="232.1" x2="70.5" y2="223.6" stroke="#dc2626" stroke-width="1.15" /><line x1="71.5" y1="231.3" x2="74.4" y2="231.3" stroke="#dc2626" stroke-width="1.15" /><line x1="72.5" y1="232.1" x2="72.5" y2="219.1" stroke="#dc2626" stroke-width="1.15" /><line x1="74.4" y1="230.9" x2="83.7" y2="230.9" stroke="#dc2626" stroke-width="1.15" /><line x1="79.5" y1="232.1" x2="79.5" y2="223.6" stroke="#dc2626" stroke-width="1.15" /><line x1="82.9" y1="231.1" x2="92.9" y2="231.1" stroke="#dc2626" stroke-width="1.15" /><line x1="87.5" y1="232.1" x2="87.5" y2="225.1" stroke="#dc2626" stroke-width="1.15" /><line x1="92.5" y1="231.4" x2="107.6" y2="231.4" stroke="#dc2626" stroke-width="1.15" /><line x1="99.5" y1="232.1" x2="99.5" y2="226.5" stroke="#dc2626" stroke-width="1.15" /><line x1="107.6" y1="230.6" x2="123.0" y2="230.6" stroke="#dc2626" stroke-width="1.15" /><line x1="115.5" y1="232.1" x2="115.5" y2="225.8" stroke="#dc2626" stroke-width="1.15" /><line x1="122.6" y1="228.5" x2="138.9" y2="228.5" stroke="#dc2626" stroke-width="1.15" /><line x1="130.5" y1="232.1" x2="130.5" y2="223.6" stroke="#dc2626" stroke-width="1.15" /><line x1="138.5" y1="230.6" x2="162.0" y2="230.6" stroke="#dc2626" stroke-width="1.15" /><line x1="150.5" y1="232.1" x2="150.5" y2="225.8" stroke="#dc2626" stroke-width="1.15" /><line x1="162.0" y1="231.9" x2="192.5" y2="231.9" stroke="#dc2626" stroke-width="1.15" /><line x1="177.5" y1="232.1" x2="177.5" y2="227.0" stroke="#dc2626" stroke-width="1.15" /><line x1="192.5" y1="231.9" x2="243.1" y2="231.9" stroke="#dc2626" stroke-width="1.15" /><line x1="217.5" y1="232.1" x2="217.5" y2="228.2" stroke="#dc2626" stroke-width="1.15" /><line x1="243.1" y1="232.0" x2="314.5" y2="232.0" stroke="#dc2626" stroke-width="1.15" /><line x1="277.5" y1="232.1" x2="277.5" y2="228.3" stroke="#dc2626" stroke-width="1.15" /></g>
<g clip-path="url(#ca2)"><line x1="39.5" y1="462.6" x2="39.5" y2="255.3" stroke="#7fdc4e" stroke-width="1.15" /><line x1="39.5" y1="347.5" x2="39.5" y2="232.3" stroke="#2b2ba6" stroke-width="1.15" /><line x1="39.5" y1="462.6" x2="39.5" y2="416.5" stroke="#dc2626" stroke-width="1.15" /><line x1="41.5" y1="462.6" x2="41.5" y2="351.5" stroke="#7fdc4e" stroke-width="1.15" /><line x1="41.5" y1="295.0" x2="41.5" y2="232.3" stroke="#2b2ba6" stroke-width="1.15" /><line x1="41.5" y1="462.6" x2="41.5" y2="444.4" stroke="#dc2626" stroke-width="1.15" /><line x1="44.5" y1="462.6" x2="44.5" y2="355.9" stroke="#7fdc4e" stroke-width="1.15" /><line x1="44.5" y1="302.4" x2="44.5" y2="238.4" stroke="#2b2ba6" stroke-width="1.15" /><line x1="44.5" y1="462.6" x2="44.5" y2="442.5" stroke="#dc2626" stroke-width="1.15" /><line x1="45.5" y1="462.6" x2="45.5" y2="379.7" stroke="#7fdc4e" stroke-width="1.15" /><line x1="45.5" y1="357.0" x2="45.5" y2="232.3" stroke="#2b2ba6" stroke-width="1.15" /><line x1="45.5" y1="462.6" x2="45.5" y2="443.9" stroke="#dc2626" stroke-width="1.15" /><line x1="48.5" y1="462.6" x2="48.5" y2="338.7" stroke="#7fdc4e" stroke-width="1.15" /><line x1="48.5" y1="298.6" x2="48.5" y2="245.6" stroke="#2b2ba6" stroke-width="1.15" /><line x1="48.5" y1="462.6" x2="48.5" y2="442.5" stroke="#dc2626" stroke-width="1.15" /><line x1="50.5" y1="462.6" x2="50.5" y2="333.5" stroke="#7fdc4e" stroke-width="1.15" /><line x1="50.5" y1="366.3" x2="50.5" y2="245.3" stroke="#2b2ba6" stroke-width="1.15" /><line x1="50.5" y1="462.6" x2="50.5" y2="434.0" stroke="#dc2626" stroke-width="1.15" /><line x1="52.5" y1="462.6" x2="52.5" y2="333.3" stroke="#7fdc4e" stroke-width="1.15" /><line x1="52.5" y1="360.6" x2="52.5" y2="233.3" stroke="#2b2ba6" stroke-width="1.15" /><line x1="52.5" y1="462.6" x2="52.5" y2="441.0" stroke="#dc2626" stroke-width="1.15" /><line x1="54.5" y1="462.6" x2="54.5" y2="385.2" stroke="#7fdc4e" stroke-width="1.15" /><line x1="54.5" y1="342.0" x2="54.5" y2="285.5" stroke="#2b2ba6" stroke-width="1.15" /><line x1="54.5" y1="462.6" x2="54.5" y2="435.4" stroke="#dc2626" stroke-width="1.15" /><line x1="55.5" y1="462.6" x2="55.5" y2="371.1" stroke="#7fdc4e" stroke-width="1.15" /><line x1="55.5" y1="381.8" x2="55.5" y2="278.5" stroke="#2b2ba6" stroke-width="1.15" /><line x1="55.5" y1="462.6" x2="55.5" y2="437.6" stroke="#dc2626" stroke-width="1.15" /><line x1="57.5" y1="462.6" x2="57.5" y2="385.6" stroke="#7fdc4e" stroke-width="1.15" /><line x1="57.5" y1="344.2" x2="57.5" y2="258.9" stroke="#2b2ba6" stroke-width="1.15" /><line x1="57.5" y1="462.6" x2="57.5" y2="446.1" stroke="#dc2626" stroke-width="1.15" /><line x1="58.5" y1="462.6" x2="58.5" y2="343.5" stroke="#7fdc4e" stroke-width="1.15" /><line x1="58.5" y1="394.9" x2="58.5" y2="276.4" stroke="#2b2ba6" stroke-width="1.15" /><line x1="58.5" y1="462.6" x2="58.5" y2="435.8" stroke="#dc2626" stroke-width="1.15" /><line x1="58.5" y1="276.1" x2="58.5" y2="462.6" stroke="#7fdc4e" stroke-width="1.15" /><line x1="58.5" y1="255.3" x2="58.5" y2="393.5" stroke="#2b2ba6" stroke-width="1.15" /><line x1="58.5" y1="428.1" x2="58.5" y2="462.6" stroke="#dc2626" stroke-width="1.15" /><line x1="59.5" y1="250.7" x2="59.5" y2="416.5" stroke="#7fdc4e" stroke-width="1.15" /><line x1="59.5" y1="324.4" x2="59.5" y2="451.1" stroke="#2b2ba6" stroke-width="1.15" /><line x1="59.5" y1="432.7" x2="59.5" y2="462.6" stroke="#dc2626" stroke-width="1.15" /><line x1="61.5" y1="242.2" x2="61.5" y2="393.5" stroke="#7fdc4e" stroke-width="1.15" /><line x1="61.5" y1="393.5" x2="61.5" y2="432.7" stroke="#2b2ba6" stroke-width="1.15" /><line x1="61.5" y1="432.7" x2="61.5" y2="462.6" stroke="#dc2626" stroke-width="1.15" /><line x1="62.5" y1="241.5" x2="62.5" y2="382.0" stroke="#7fdc4e" stroke-width="1.15" /><line x1="62.5" y1="382.0" x2="62.5" y2="439.6" stroke="#2b2ba6" stroke-width="1.15" /><line x1="62.5" y1="439.6" x2="62.5" y2="462.6" stroke="#dc2626" stroke-width="1.15" /><line x1="63.5" y1="235.8" x2="63.5" y2="393.5" stroke="#7fdc4e" stroke-width="1.15" /><line x1="63.5" y1="405.0" x2="63.5" y2="444.2" stroke="#2b2ba6" stroke-width="1.15" /><line x1="63.5" y1="444.2" x2="63.5" y2="462.6" stroke="#dc2626" stroke-width="1.15" /><line x1="65.5" y1="243.8" x2="65.5" y2="405.0" stroke="#7fdc4e" stroke-width="1.15" /><line x1="65.5" y1="393.5" x2="65.5" y2="416.5" stroke="#2b2ba6" stroke-width="1.15" /><line x1="65.5" y1="416.5" x2="65.5" y2="462.6" stroke="#dc2626" stroke-width="1.15" /><line x1="67.5" y1="248.4" x2="67.5" y2="416.5" stroke="#7fdc4e" stroke-width="1.15" /><line x1="67.5" y1="416.5" x2="67.5" y2="462.6" stroke="#dc2626" stroke-width="1.15" /><line x1="68.5" y1="233.5" x2="68.5" y2="361.3" stroke="#7fdc4e" stroke-width="1.15" /><line x1="68.5" y1="361.3" x2="68.5" y2="462.6" stroke="#dc2626" stroke-width="1.15" /><line x1="70.5" y1="235.8" x2="70.5" y2="402.7" stroke="#7fdc4e" stroke-width="1.15" /><line x1="70.5" y1="402.7" x2="70.5" y2="416.5" stroke="#2b2ba6" stroke-width="1.15" /><line x1="70.5" y1="405.0" x2="70.5" y2="462.6" stroke="#dc2626" stroke-width="1.15" /><line x1="72.5" y1="236.9" x2="72.5" y2="380.2" stroke="#7fdc4e" stroke-width="1.15" /><line x1="72.5" y1="380.2" x2="72.5" y2="409.6" stroke="#2b2ba6" stroke-width="1.15" /><line x1="72.5" y1="409.6" x2="72.5" y2="462.6" stroke="#dc2626" stroke-width="1.15" /><line x1="79.5" y1="236.9" x2="79.5" y2="347.5" stroke="#7fdc4e" stroke-width="1.15" /><line x1="79.5" y1="350.7" x2="79.5" y2="428.1" stroke="#2b2ba6" stroke-width="1.15" /><line x1="79.5" y1="428.1" x2="79.5" y2="462.6" stroke="#dc2626" stroke-width="1.15" /><line x1="87.5" y1="253.0" x2="87.5" y2="361.3" stroke="#7fdc4e" stroke-width="1.15" /><line x1="87.5" y1="361.3" x2="87.5" y2="428.7" stroke="#2b2ba6" stroke-width="1.15" /><line x1="87.5" y1="428.7" x2="87.5" y2="462.6" stroke="#dc2626" stroke-width="1.15" /><line x1="99.5" y1="246.1" x2="99.5" y2="400.6" stroke="#7fdc4e" stroke-width="1.15" /><line x1="99.5" y1="400.6" x2="99.5" y2="416.5" stroke="#2b2ba6" stroke-width="1.15" /><line x1="99.5" y1="416.5" x2="99.5" y2="462.6" stroke="#dc2626" stroke-width="1.15" /><line x1="115.5" y1="247.3" x2="115.5" y2="419.8" stroke="#7fdc4e" stroke-width="1.15" /><line x1="115.5" y1="419.8" x2="115.5" y2="462.6" stroke="#dc2626" stroke-width="1.15" /><line x1="130.5" y1="257.6" x2="130.5" y2="394.2" stroke="#7fdc4e" stroke-width="1.15" /><line x1="130.5" y1="394.2" x2="130.5" y2="462.6" stroke="#dc2626" stroke-width="1.15" /><line x1="150.5" y1="247.3" x2="150.5" y2="430.1" stroke="#7fdc4e" stroke-width="1.15" /><line x1="150.5" y1="430.1" x2="150.5" y2="462.6" stroke="#dc2626" stroke-width="1.15" /><line x1="177.5" y1="277.2" x2="177.5" y2="350.4" stroke="#2b2ba6" stroke-width="1.15" /><line x1="177.5" y1="350.4" x2="177.5" y2="462.6" stroke="#dc2626" stroke-width="1.15" /><line x1="177.5" y1="367.3" x2="177.5" y2="421.1" stroke="#7fdc4e" stroke-width="1.15" /><line x1="217.5" y1="239.2" x2="217.5" y2="357.1" stroke="#7fdc4e" stroke-width="1.15" /><line x1="217.5" y1="357.1" x2="217.5" y2="398.8" stroke="#2b2ba6" stroke-width="1.15" /><line x1="217.5" y1="398.8" x2="217.5" y2="462.6" stroke="#dc2626" stroke-width="1.15" /><line x1="277.5" y1="232.3" x2="277.5" y2="364.7" stroke="#7fdc4e" stroke-width="1.15" /><line x1="277.5" y1="364.7" x2="277.5" y2="462.6" stroke="#dc2626" stroke-width="1.15" /><polyline points="39.5,266.8 41.6,248.4 44.3,266.8 45.8,287.6 48.5,269.1 50.9,299.1 52.8,289.9 54.3,310.6 55.9,324.4 57.2,296.8 58.1,329.0 59.0,312.9 59.9,382.0 61.0,439.6 62.4,441.9 64.0,444.2 65.5,439.6 67.1,435.0 68.6,441.9 70.3,437.3 72.7,432.7 79.0,430.4 87.9,395.4 99.9,375.3 115.7,382.9 130.8,386.4 150.1,370.5 177.5,324.9 218.0,417.7 277.4,450.4" fill="none" stroke="#2b2ba6" stroke-width="1.25" stroke-linejoin="round"/><polyline points="39.5,451.1 41.6,429.6 44.3,440.7 45.8,434.5 48.5,455.6 50.9,447.7 52.8,436.6 54.3,451.7 55.9,446.4 57.2,436.2 58.1,455.2 59.0,405.0 59.9,324.4 61.0,262.2 62.4,259.9 64.0,257.6 65.5,264.5 67.1,271.5 68.6,259.9 70.3,269.1 72.7,271.5 79.0,272.1 87.9,304.8 99.9,327.0 115.7,326.3 130.8,337.7 150.1,338.7 177.5,387.3 218.0,290.6 277.4,269.8" fill="none" stroke="#7fdc4e" stroke-width="1.25" stroke-linejoin="round"/><polyline points="39.5,439.6 41.6,440.9 44.3,453.2 45.8,442.4 48.5,450.5 50.9,445.9 52.8,441.0 54.3,449.2 55.9,442.1 57.2,439.9 58.1,448.3 59.0,451.1 59.9,453.4 61.0,455.7 62.4,455.7 64.0,455.7 65.5,453.4 67.1,451.1 68.6,455.7 70.3,453.4 72.7,454.5 79.0,455.7 87.9,458.0 99.9,455.2 115.7,449.7 130.8,434.3 150.1,449.2 177.5,447.9 218.0,451.3 277.4,440.3" fill="none" stroke="#dc2626" stroke-width="1.25" stroke-linejoin="round"/><line x1="38.5" y1="266.8" x2="40.5" y2="266.8" stroke="#2b2ba6" stroke-width="1.15" /><line x1="38.5" y1="451.1" x2="40.5" y2="451.1" stroke="#7fdc4e" stroke-width="1.15" /><line x1="38.5" y1="439.6" x2="40.5" y2="439.6" stroke="#dc2626" stroke-width="1.15" /><line x1="40.5" y1="248.4" x2="42.9" y2="248.4" stroke="#2b2ba6" stroke-width="1.15" /><line x1="40.5" y1="429.6" x2="42.9" y2="429.6" stroke="#7fdc4e" stroke-width="1.15" /><line x1="40.5" y1="440.9" x2="42.9" y2="440.9" stroke="#dc2626" stroke-width="1.15" /><line x1="42.9" y1="266.8" x2="45.1" y2="266.8" stroke="#2b2ba6" stroke-width="1.15" /><line x1="42.9" y1="440.7" x2="45.1" y2="440.7" stroke="#7fdc4e" stroke-width="1.15" /><line x1="42.9" y1="453.2" x2="45.1" y2="453.2" stroke="#dc2626" stroke-width="1.15" /><line x1="45.1" y1="287.6" x2="47.2" y2="287.6" stroke="#2b2ba6" stroke-width="1.15" /><line x1="45.1" y1="434.5" x2="47.2" y2="434.5" stroke="#7fdc4e" stroke-width="1.15" /><line x1="45.1" y1="442.4" x2="47.2" y2="442.4" stroke="#dc2626" stroke-width="1.15" /><line x1="47.2" y1="269.1" x2="49.7" y2="269.1" stroke="#2b2ba6" stroke-width="1.15" /><line x1="47.2" y1="455.6" x2="49.7" y2="455.6" stroke="#7fdc4e" stroke-width="1.15" /><line x1="47.2" y1="450.5" x2="49.7" y2="450.5" stroke="#dc2626" stroke-width="1.15" /><line x1="49.7" y1="299.1" x2="51.8" y2="299.1" stroke="#2b2ba6" stroke-width="1.15" /><line x1="49.7" y1="447.7" x2="51.8" y2="447.7" stroke="#7fdc4e" stroke-width="1.15" /><line x1="49.7" y1="445.9" x2="51.8" y2="445.9" stroke="#dc2626" stroke-width="1.15" /><line x1="51.8" y1="289.9" x2="53.6" y2="289.9" stroke="#2b2ba6" stroke-width="1.15" /><line x1="51.8" y1="436.6" x2="53.6" y2="436.6" stroke="#7fdc4e" stroke-width="1.15" /><line x1="51.8" y1="441.0" x2="53.6" y2="441.0" stroke="#dc2626" stroke-width="1.15" /><line x1="53.6" y1="310.6" x2="55.1" y2="310.6" stroke="#2b2ba6" stroke-width="1.15" /><line x1="53.6" y1="451.7" x2="55.1" y2="451.7" stroke="#7fdc4e" stroke-width="1.15" /><line x1="53.6" y1="449.2" x2="55.1" y2="449.2" stroke="#dc2626" stroke-width="1.15" /><line x1="55.1" y1="324.4" x2="56.5" y2="324.4" stroke="#2b2ba6" stroke-width="1.15" /><line x1="55.1" y1="446.4" x2="56.5" y2="446.4" stroke="#7fdc4e" stroke-width="1.15" /><line x1="55.1" y1="442.1" x2="56.5" y2="442.1" stroke="#dc2626" stroke-width="1.15" /><line x1="56.5" y1="296.8" x2="57.6" y2="296.8" stroke="#2b2ba6" stroke-width="1.15" /><line x1="56.5" y1="436.2" x2="57.6" y2="436.2" stroke="#7fdc4e" stroke-width="1.15" /><line x1="56.5" y1="439.9" x2="57.6" y2="439.9" stroke="#dc2626" stroke-width="1.15" /><line x1="57.6" y1="329.0" x2="58.5" y2="329.0" stroke="#2b2ba6" stroke-width="1.15" /><line x1="57.6" y1="455.2" x2="58.5" y2="455.2" stroke="#7fdc4e" stroke-width="1.15" /><line x1="57.6" y1="448.3" x2="58.5" y2="448.3" stroke="#dc2626" stroke-width="1.15" /><line x1="58.5" y1="312.9" x2="59.4" y2="312.9" stroke="#2b2ba6" stroke-width="1.15" /><line x1="58.5" y1="405.0" x2="59.4" y2="405.0" stroke="#7fdc4e" stroke-width="1.15" /><line x1="58.5" y1="451.1" x2="59.4" y2="451.1" stroke="#dc2626" stroke-width="1.15" /><line x1="59.4" y1="382.0" x2="60.5" y2="382.0" stroke="#2b2ba6" stroke-width="1.15" /><line x1="59.4" y1="324.4" x2="60.5" y2="324.4" stroke="#7fdc4e" stroke-width="1.15" /><line x1="59.4" y1="453.4" x2="60.5" y2="453.4" stroke="#dc2626" stroke-width="1.15" /><line x1="60.5" y1="439.6" x2="61.7" y2="439.6" stroke="#2b2ba6" stroke-width="1.15" /><line x1="60.5" y1="262.2" x2="61.7" y2="262.2" stroke="#7fdc4e" stroke-width="1.15" /><line x1="60.5" y1="455.7" x2="61.7" y2="455.7" stroke="#dc2626" stroke-width="1.15" /><line x1="61.7" y1="441.9" x2="63.2" y2="441.9" stroke="#2b2ba6" stroke-width="1.15" /><line x1="61.7" y1="259.9" x2="63.2" y2="259.9" stroke="#7fdc4e" stroke-width="1.15" /><line x1="61.7" y1="455.7" x2="63.2" y2="455.7" stroke="#dc2626" stroke-width="1.15" /><line x1="63.2" y1="444.2" x2="64.7" y2="444.2" stroke="#2b2ba6" stroke-width="1.15" /><line x1="63.2" y1="257.6" x2="64.7" y2="257.6" stroke="#7fdc4e" stroke-width="1.15" /><line x1="63.2" y1="455.7" x2="64.7" y2="455.7" stroke="#dc2626" stroke-width="1.15" /><line x1="64.7" y1="439.6" x2="66.3" y2="439.6" stroke="#2b2ba6" stroke-width="1.15" /><line x1="64.7" y1="264.5" x2="66.3" y2="264.5" stroke="#7fdc4e" stroke-width="1.15" /><line x1="64.7" y1="453.4" x2="66.3" y2="453.4" stroke="#dc2626" stroke-width="1.15" /><line x1="66.3" y1="435.0" x2="67.8" y2="435.0" stroke="#2b2ba6" stroke-width="1.15" /><line x1="66.3" y1="271.5" x2="67.8" y2="271.5" stroke="#7fdc4e" stroke-width="1.15" /><line x1="66.3" y1="451.1" x2="67.8" y2="451.1" stroke="#dc2626" stroke-width="1.15" /><line x1="67.8" y1="441.9" x2="69.5" y2="441.9" stroke="#2b2ba6" stroke-width="1.15" /><line x1="67.8" y1="259.9" x2="69.5" y2="259.9" stroke="#7fdc4e" stroke-width="1.15" /><line x1="67.8" y1="455.7" x2="69.5" y2="455.7" stroke="#dc2626" stroke-width="1.15" /><line x1="69.5" y1="437.3" x2="71.5" y2="437.3" stroke="#2b2ba6" stroke-width="1.15" /><line x1="69.5" y1="269.1" x2="71.5" y2="269.1" stroke="#7fdc4e" stroke-width="1.15" /><line x1="69.5" y1="453.4" x2="71.5" y2="453.4" stroke="#dc2626" stroke-width="1.15" /><line x1="71.5" y1="432.7" x2="74.4" y2="432.7" stroke="#2b2ba6" stroke-width="1.15" /><line x1="71.5" y1="271.5" x2="74.4" y2="271.5" stroke="#7fdc4e" stroke-width="1.15" /><line x1="71.5" y1="454.5" x2="74.4" y2="454.5" stroke="#dc2626" stroke-width="1.15" /><line x1="74.4" y1="430.4" x2="83.7" y2="430.4" stroke="#2b2ba6" stroke-width="1.15" /><line x1="74.4" y1="272.1" x2="83.7" y2="272.1" stroke="#7fdc4e" stroke-width="1.15" /><line x1="74.4" y1="455.7" x2="83.7" y2="455.7" stroke="#dc2626" stroke-width="1.15" /><line x1="82.9" y1="395.4" x2="92.9" y2="395.4" stroke="#2b2ba6" stroke-width="1.15" /><line x1="82.9" y1="304.8" x2="92.9" y2="304.8" stroke="#7fdc4e" stroke-width="1.15" /><line x1="82.9" y1="458.0" x2="92.9" y2="458.0" stroke="#dc2626" stroke-width="1.15" /><line x1="92.5" y1="375.3" x2="107.6" y2="375.3" stroke="#2b2ba6" stroke-width="1.15" /><line x1="92.5" y1="327.0" x2="107.6" y2="327.0" stroke="#7fdc4e" stroke-width="1.15" /><line x1="92.5" y1="455.2" x2="107.6" y2="455.2" stroke="#dc2626" stroke-width="1.15" /><line x1="107.6" y1="382.9" x2="123.0" y2="382.9" stroke="#2b2ba6" stroke-width="1.15" /><line x1="107.6" y1="326.3" x2="123.0" y2="326.3" stroke="#7fdc4e" stroke-width="1.15" /><line x1="107.6" y1="449.7" x2="123.0" y2="449.7" stroke="#dc2626" stroke-width="1.15" /><line x1="122.6" y1="386.4" x2="138.9" y2="386.4" stroke="#2b2ba6" stroke-width="1.15" /><line x1="122.6" y1="337.7" x2="138.9" y2="337.7" stroke="#7fdc4e" stroke-width="1.15" /><line x1="122.6" y1="434.3" x2="138.9" y2="434.3" stroke="#dc2626" stroke-width="1.15" /><line x1="138.5" y1="370.5" x2="162.0" y2="370.5" stroke="#2b2ba6" stroke-width="1.15" /><line x1="138.5" y1="338.7" x2="162.0" y2="338.7" stroke="#7fdc4e" stroke-width="1.15" /><line x1="138.5" y1="449.2" x2="162.0" y2="449.2" stroke="#dc2626" stroke-width="1.15" /><line x1="162.0" y1="324.9" x2="192.5" y2="324.9" stroke="#2b2ba6" stroke-width="1.15" /><line x1="162.0" y1="387.3" x2="192.5" y2="387.3" stroke="#7fdc4e" stroke-width="1.15" /><line x1="162.0" y1="447.9" x2="192.5" y2="447.9" stroke="#dc2626" stroke-width="1.15" /><line x1="192.5" y1="417.7" x2="243.1" y2="417.7" stroke="#2b2ba6" stroke-width="1.15" /><line x1="192.5" y1="290.6" x2="243.1" y2="290.6" stroke="#7fdc4e" stroke-width="1.15" /><line x1="192.5" y1="451.3" x2="243.1" y2="451.3" stroke="#dc2626" stroke-width="1.15" /><line x1="243.1" y1="450.4" x2="314.5" y2="450.4" stroke="#2b2ba6" stroke-width="1.15" /><line x1="243.1" y1="269.8" x2="314.5" y2="269.8" stroke="#7fdc4e" stroke-width="1.15" /><line x1="243.1" y1="440.3" x2="314.5" y2="440.3" stroke="#dc2626" stroke-width="1.15" /></g>
<g clip-path="url(#cb1)"><polyline points="323.5,225.8 335.2,205.6 338.0,216.5 339.6,215.5 341.3,215.9 342.7,211.9 344.1,209.0 345.2,207.7 346.4,206.4 347.5,207.9 348.6,209.0 349.5,212.0 350.3,216.0 351.7,208.3 353.1,199.0 354.0,197.3 354.8,195.7 355.9,197.4 357.0,200.5 357.9,201.7 358.7,203.0 359.5,203.1 360.4,204.5 361.5,206.0 362.6,206.4 363.5,199.9 364.3,192.3 365.1,192.7 366.0,194.6 367.1,193.1 368.3,190.0 369.4,187.9 370.5,184.2 371.6,180.6 373.0,184.0 374.1,191.7 375.2,201.3 376.9,193.7 378.7,186.2 382.0,184.7 387.3,197.4 392.5,199.0 397.6,199.9 402.6,198.0 408.3,199.6 416.5,211.9 421.7,213.0 423.6,196.7 429.2,202.3 438.0,218.3 444.0,206.3 446.6,198.0 448.7,24.0 450.5,120.0 452.3,180.0 455.6,216.7 459.9,212.7 464.6,202.3 470.5,201.2 476.9,214.3 482.3,207.9 487.1,218.3 490.7,209.5 494.0,221.5 499.0,224.7 515.6,214.3 532.3,223.9 561.9,224.7" fill="none" stroke="#111" stroke-width="1.15" stroke-linejoin="round"/><polyline points="323.5,227.8 335.2,218.2 338.0,228.0 339.6,231.0 341.3,229.5 342.7,231.0 344.1,226.0 345.2,216.7 346.4,219.3 347.5,229.3 348.6,229.0 349.5,231.0 350.3,229.5 351.7,223.7 353.1,229.0 354.0,231.0 354.8,226.0 355.9,217.2 357.0,217.0 357.9,221.3 358.7,228.0 359.5,231.0 360.4,229.0 361.5,231.0 362.6,225.0 363.5,221.5 364.3,213.7 365.1,220.4 366.0,216.0 367.1,213.7 368.3,212.0 369.4,207.0 370.5,210.4 371.6,198.0 373.0,212.0 374.1,222.5 375.2,224.9 376.9,215.4 378.7,202.4 382.0,197.4 387.3,212.5 392.5,213.0 397.6,212.0 402.6,214.0 408.3,216.7 416.5,221.5 421.7,220.0 423.6,207.9 429.2,211.9 438.0,229.5 444.0,222.0 446.6,212.7 448.7,24.4 450.5,124.0 452.3,185.0 455.6,225.5 459.9,223.1 464.6,215.9 470.5,211.9 476.9,220.7 482.3,211.1 487.1,221.5 490.7,212.7 494.0,228.7 499.0,227.1 515.6,214.3 532.3,225.0 561.9,224.7" fill="none" stroke="#7fdc4e" stroke-width="1.25" stroke-linejoin="round"/><line x1="312.6" y1="227.8" x2="335.9" y2="227.8" stroke="#7fdc4e" stroke-width="1.15" /><line x1="323.5" y1="222.5" x2="323.5" y2="232.0" stroke="#7fdc4e" stroke-width="1.15" /><line x1="333.5" y1="218.2" x2="336.6" y2="218.2" stroke="#7fdc4e" stroke-width="1.15" /><line x1="335.5" y1="214.1" x2="335.5" y2="222.3" stroke="#7fdc4e" stroke-width="1.15" /><line x1="336.6" y1="228.0" x2="338.8" y2="228.0" stroke="#7fdc4e" stroke-width="1.15" /><line x1="338.5" y1="220.4" x2="338.5" y2="232.0" stroke="#7fdc4e" stroke-width="1.15" /><line x1="338.8" y1="231.0" x2="340.5" y2="231.0" stroke="#7fdc4e" stroke-width="1.15" /><line x1="339.5" y1="227.5" x2="339.5" y2="232.0" stroke="#7fdc4e" stroke-width="1.15" /><line x1="340.5" y1="229.5" x2="342.0" y2="229.5" stroke="#7fdc4e" stroke-width="1.15" /><line x1="341.5" y1="222.7" x2="341.5" y2="232.0" stroke="#7fdc4e" stroke-width="1.15" /><line x1="342.0" y1="231.0" x2="343.4" y2="231.0" stroke="#7fdc4e" stroke-width="1.15" /><line x1="342.5" y1="225.4" x2="342.5" y2="232.0" stroke="#7fdc4e" stroke-width="1.15" /><line x1="343.4" y1="226.0" x2="344.6" y2="226.0" stroke="#7fdc4e" stroke-width="1.15" /><line x1="344.5" y1="222.6" x2="344.5" y2="229.4" stroke="#7fdc4e" stroke-width="1.15" /><line x1="344.6" y1="216.7" x2="345.8" y2="216.7" stroke="#7fdc4e" stroke-width="1.15" /><line x1="345.5" y1="210.1" x2="345.5" y2="223.2" stroke="#7fdc4e" stroke-width="1.15" /><line x1="345.8" y1="219.3" x2="346.9" y2="219.3" stroke="#7fdc4e" stroke-width="1.15" /><line x1="346.5" y1="216.0" x2="346.5" y2="222.6" stroke="#7fdc4e" stroke-width="1.15" /><line x1="346.9" y1="229.3" x2="348.1" y2="229.3" stroke="#7fdc4e" stroke-width="1.15" /><line x1="347.5" y1="223.2" x2="347.5" y2="232.0" stroke="#7fdc4e" stroke-width="1.15" /><line x1="348.1" y1="229.0" x2="349.1" y2="229.0" stroke="#7fdc4e" stroke-width="1.15" /><line x1="348.5" y1="225.5" x2="348.5" y2="232.0" stroke="#7fdc4e" stroke-width="1.15" /><line x1="349.1" y1="231.0" x2="349.9" y2="231.0" stroke="#7fdc4e" stroke-width="1.15" /><line x1="349.5" y1="227.4" x2="349.5" y2="232.0" stroke="#7fdc4e" stroke-width="1.15" /><line x1="349.9" y1="229.5" x2="351.0" y2="229.5" stroke="#7fdc4e" stroke-width="1.15" /><line x1="350.5" y1="223.5" x2="350.5" y2="232.0" stroke="#7fdc4e" stroke-width="1.15" /><line x1="351.0" y1="223.7" x2="352.4" y2="223.7" stroke="#7fdc4e" stroke-width="1.15" /><line x1="351.5" y1="214.9" x2="351.5" y2="232.0" stroke="#7fdc4e" stroke-width="1.15" /><line x1="352.4" y1="229.0" x2="353.6" y2="229.0" stroke="#7fdc4e" stroke-width="1.15" /><line x1="353.5" y1="225.1" x2="353.5" y2="232.0" stroke="#7fdc4e" stroke-width="1.15" /><line x1="353.6" y1="231.0" x2="354.4" y2="231.0" stroke="#7fdc4e" stroke-width="1.15" /><line x1="354.5" y1="226.4" x2="354.5" y2="232.0" stroke="#7fdc4e" stroke-width="1.15" /><line x1="354.4" y1="226.0" x2="355.4" y2="226.0" stroke="#7fdc4e" stroke-width="1.15" /><line x1="354.5" y1="218.6" x2="354.5" y2="232.0" stroke="#7fdc4e" stroke-width="1.15" /><line x1="355.4" y1="217.2" x2="356.4" y2="217.2" stroke="#7fdc4e" stroke-width="1.15" /><line x1="355.5" y1="207.6" x2="355.5" y2="226.9" stroke="#7fdc4e" stroke-width="1.15" /><line x1="356.4" y1="217.0" x2="357.4" y2="217.0" stroke="#7fdc4e" stroke-width="1.15" /><line x1="357.5" y1="210.0" x2="357.5" y2="224.0" stroke="#7fdc4e" stroke-width="1.15" /><line x1="357.4" y1="221.3" x2="358.3" y2="221.3" stroke="#7fdc4e" stroke-width="1.15" /><line x1="357.5" y1="215.5" x2="357.5" y2="227.1" stroke="#7fdc4e" stroke-width="1.15" /><line x1="358.3" y1="228.0" x2="359.1" y2="228.0" stroke="#7fdc4e" stroke-width="1.15" /><line x1="358.5" y1="218.2" x2="358.5" y2="232.0" stroke="#7fdc4e" stroke-width="1.15" /><line x1="359.1" y1="231.0" x2="359.9" y2="231.0" stroke="#7fdc4e" stroke-width="1.15" /><line x1="359.5" y1="227.7" x2="359.5" y2="232.0" stroke="#7fdc4e" stroke-width="1.15" /><line x1="359.9" y1="229.0" x2="360.9" y2="229.0" stroke="#7fdc4e" stroke-width="1.15" /><line x1="360.5" y1="220.0" x2="360.5" y2="232.0" stroke="#7fdc4e" stroke-width="1.15" /><line x1="360.9" y1="231.0" x2="362.1" y2="231.0" stroke="#7fdc4e" stroke-width="1.15" /><line x1="361.5" y1="226.0" x2="361.5" y2="232.0" stroke="#7fdc4e" stroke-width="1.15" /><line x1="362.1" y1="225.0" x2="363.1" y2="225.0" stroke="#7fdc4e" stroke-width="1.15" /><line x1="362.5" y1="221.0" x2="362.5" y2="229.0" stroke="#7fdc4e" stroke-width="1.15" /><line x1="363.1" y1="221.5" x2="363.9" y2="221.5" stroke="#7fdc4e" stroke-width="1.15" /><line x1="363.5" y1="217.7" x2="363.5" y2="225.3" stroke="#7fdc4e" stroke-width="1.15" /><line x1="363.9" y1="213.7" x2="364.7" y2="213.7" stroke="#7fdc4e" stroke-width="1.15" /><line x1="364.5" y1="208.5" x2="364.5" y2="218.9" stroke="#7fdc4e" stroke-width="1.15" /><line x1="364.7" y1="220.4" x2="365.6" y2="220.4" stroke="#7fdc4e" stroke-width="1.15" /><line x1="365.5" y1="211.7" x2="365.5" y2="229.1" stroke="#7fdc4e" stroke-width="1.15" /><line x1="365.6" y1="216.0" x2="366.6" y2="216.0" stroke="#7fdc4e" stroke-width="1.15" /><line x1="366.5" y1="211.7" x2="366.5" y2="220.3" stroke="#7fdc4e" stroke-width="1.15" /><line x1="366.6" y1="213.7" x2="367.7" y2="213.7" stroke="#7fdc4e" stroke-width="1.15" /><line x1="367.5" y1="206.7" x2="367.5" y2="220.8" stroke="#7fdc4e" stroke-width="1.15" /><line x1="367.7" y1="212.0" x2="368.9" y2="212.0" stroke="#7fdc4e" stroke-width="1.15" /><line x1="368.5" y1="204.5" x2="368.5" y2="219.5" stroke="#7fdc4e" stroke-width="1.15" /><line x1="368.9" y1="207.0" x2="369.9" y2="207.0" stroke="#7fdc4e" stroke-width="1.15" /><line x1="369.5" y1="201.4" x2="369.5" y2="212.6" stroke="#7fdc4e" stroke-width="1.15" /><line x1="369.9" y1="210.4" x2="371.1" y2="210.4" stroke="#7fdc4e" stroke-width="1.15" /><line x1="370.5" y1="203.6" x2="370.5" y2="217.3" stroke="#7fdc4e" stroke-width="1.15" /><line x1="371.1" y1="198.0" x2="372.3" y2="198.0" stroke="#7fdc4e" stroke-width="1.15" /><line x1="371.5" y1="194.6" x2="371.5" y2="201.4" stroke="#7fdc4e" stroke-width="1.15" /><line x1="372.3" y1="212.0" x2="373.6" y2="212.0" stroke="#7fdc4e" stroke-width="1.15" /><line x1="373.5" y1="208.6" x2="373.5" y2="215.4" stroke="#7fdc4e" stroke-width="1.15" /><line x1="373.6" y1="222.5" x2="374.6" y2="222.5" stroke="#7fdc4e" stroke-width="1.15" /><line x1="374.5" y1="218.1" x2="374.5" y2="226.9" stroke="#7fdc4e" stroke-width="1.15" /><line x1="374.6" y1="224.9" x2="376.0" y2="224.9" stroke="#7fdc4e" stroke-width="1.15" /><line x1="375.5" y1="217.1" x2="375.5" y2="232.0" stroke="#7fdc4e" stroke-width="1.15" /><line x1="376.0" y1="215.4" x2="377.8" y2="215.4" stroke="#7fdc4e" stroke-width="1.15" /><line x1="376.5" y1="209.4" x2="376.5" y2="221.3" stroke="#7fdc4e" stroke-width="1.15" /><line x1="377.8" y1="202.4" x2="380.4" y2="202.4" stroke="#7fdc4e" stroke-width="1.15" /><line x1="378.5" y1="197.2" x2="378.5" y2="207.6" stroke="#7fdc4e" stroke-width="1.15" /><line x1="380.4" y1="197.4" x2="384.6" y2="197.4" stroke="#7fdc4e" stroke-width="1.15" /><line x1="382.5" y1="190.3" x2="382.5" y2="204.5" stroke="#7fdc4e" stroke-width="1.15" /><line x1="384.6" y1="212.5" x2="389.9" y2="212.5" stroke="#7fdc4e" stroke-width="1.15" /><line x1="387.5" y1="206.3" x2="387.5" y2="218.7" stroke="#7fdc4e" stroke-width="1.15" /><line x1="389.9" y1="213.0" x2="395.1" y2="213.0" stroke="#7fdc4e" stroke-width="1.15" /><line x1="392.5" y1="207.9" x2="392.5" y2="218.1" stroke="#7fdc4e" stroke-width="1.15" /><line x1="395.1" y1="212.0" x2="400.1" y2="212.0" stroke="#7fdc4e" stroke-width="1.15" /><line x1="397.5" y1="203.4" x2="397.5" y2="220.6" stroke="#7fdc4e" stroke-width="1.15" /><line x1="400.1" y1="214.0" x2="405.5" y2="214.0" stroke="#7fdc4e" stroke-width="1.15" /><line x1="402.5" y1="206.1" x2="402.5" y2="221.9" stroke="#7fdc4e" stroke-width="1.15" /><line x1="405.5" y1="216.7" x2="412.4" y2="216.7" stroke="#7fdc4e" stroke-width="1.15" /><line x1="408.5" y1="212.0" x2="408.5" y2="221.4" stroke="#7fdc4e" stroke-width="1.15" /><line x1="412.4" y1="221.5" x2="419.1" y2="221.5" stroke="#7fdc4e" stroke-width="1.15" /><line x1="416.5" y1="214.5" x2="416.5" y2="228.5" stroke="#7fdc4e" stroke-width="1.15" /><line x1="419.1" y1="220.0" x2="422.6" y2="220.0" stroke="#7fdc4e" stroke-width="1.15" /><line x1="421.5" y1="213.3" x2="421.5" y2="226.7" stroke="#7fdc4e" stroke-width="1.15" /><line x1="422.6" y1="207.9" x2="426.4" y2="207.9" stroke="#7fdc4e" stroke-width="1.15" /><line x1="423.5" y1="198.8" x2="423.5" y2="217.0" stroke="#7fdc4e" stroke-width="1.15" /><line x1="426.4" y1="211.9" x2="433.6" y2="211.9" stroke="#7fdc4e" stroke-width="1.15" /><line x1="429.5" y1="203.8" x2="429.5" y2="220.0" stroke="#7fdc4e" stroke-width="1.15" /><line x1="433.6" y1="229.5" x2="441.0" y2="229.5" stroke="#7fdc4e" stroke-width="1.15" /><line x1="438.5" y1="224.5" x2="438.5" y2="232.0" stroke="#7fdc4e" stroke-width="1.15" /><line x1="441.0" y1="222.0" x2="445.3" y2="222.0" stroke="#7fdc4e" stroke-width="1.15" /><line x1="444.5" y1="212.1" x2="444.5" y2="231.9" stroke="#7fdc4e" stroke-width="1.15" /><line x1="445.3" y1="212.7" x2="447.6" y2="212.7" stroke="#7fdc4e" stroke-width="1.15" /><line x1="446.5" y1="208.9" x2="446.5" y2="216.5" stroke="#7fdc4e" stroke-width="1.15" /><line x1="447.6" y1="24.4" x2="449.6" y2="24.4" stroke="#7fdc4e" stroke-width="1.15" /><line x1="448.5" y1="24.4" x2="448.5" y2="24.4" stroke="#7fdc4e" stroke-width="1.15" /><line x1="449.6" y1="124.0" x2="451.4" y2="124.0" stroke="#7fdc4e" stroke-width="1.15" /><line x1="450.5" y1="64.0" x2="450.5" y2="184.0" stroke="#7fdc4e" stroke-width="1.15" /><line x1="451.4" y1="185.0" x2="454.0" y2="185.0" stroke="#7fdc4e" stroke-width="1.15" /><line x1="452.5" y1="180.9" x2="452.5" y2="189.1" stroke="#7fdc4e" stroke-width="1.15" /><line x1="454.0" y1="225.5" x2="457.8" y2="225.5" stroke="#7fdc4e" stroke-width="1.15" /><line x1="455.5" y1="219.1" x2="455.5" y2="231.9" stroke="#7fdc4e" stroke-width="1.15" /><line x1="457.8" y1="223.1" x2="462.2" y2="223.1" stroke="#7fdc4e" stroke-width="1.15" /><line x1="459.5" y1="219.8" x2="459.5" y2="226.4" stroke="#7fdc4e" stroke-width="1.15" /><line x1="462.2" y1="215.9" x2="467.6" y2="215.9" stroke="#7fdc4e" stroke-width="1.15" /><line x1="464.5" y1="208.2" x2="464.5" y2="223.6" stroke="#7fdc4e" stroke-width="1.15" /><line x1="467.6" y1="211.9" x2="473.7" y2="211.9" stroke="#7fdc4e" stroke-width="1.15" /><line x1="470.5" y1="203.5" x2="470.5" y2="220.3" stroke="#7fdc4e" stroke-width="1.15" /><line x1="473.7" y1="220.7" x2="479.6" y2="220.7" stroke="#7fdc4e" stroke-width="1.15" /><line x1="476.5" y1="213.7" x2="476.5" y2="227.7" stroke="#7fdc4e" stroke-width="1.15" /><line x1="479.6" y1="211.1" x2="484.7" y2="211.1" stroke="#7fdc4e" stroke-width="1.15" /><line x1="482.5" y1="202.0" x2="482.5" y2="220.2" stroke="#7fdc4e" stroke-width="1.15" /><line x1="484.7" y1="221.5" x2="488.9" y2="221.5" stroke="#7fdc4e" stroke-width="1.15" /><line x1="487.5" y1="216.3" x2="487.5" y2="226.7" stroke="#7fdc4e" stroke-width="1.15" /><line x1="488.9" y1="212.7" x2="492.4" y2="212.7" stroke="#7fdc4e" stroke-width="1.15" /><line x1="490.5" y1="204.8" x2="490.5" y2="220.6" stroke="#7fdc4e" stroke-width="1.15" /><line x1="492.4" y1="228.7" x2="496.5" y2="228.7" stroke="#7fdc4e" stroke-width="1.15" /><line x1="494.5" y1="221.5" x2="494.5" y2="232.0" stroke="#7fdc4e" stroke-width="1.15" /><line x1="496.5" y1="227.1" x2="507.3" y2="227.1" stroke="#7fdc4e" stroke-width="1.15" /><line x1="499.5" y1="220.0" x2="499.5" y2="232.0" stroke="#7fdc4e" stroke-width="1.15" /><line x1="502.8" y1="214.3" x2="528.3" y2="214.3" stroke="#7fdc4e" stroke-width="1.15" /><line x1="515.5" y1="210.3" x2="515.5" y2="218.3" stroke="#7fdc4e" stroke-width="1.15" /><line x1="527.5" y1="225.0" x2="537.6" y2="225.0" stroke="#7fdc4e" stroke-width="1.15" /><line x1="532.5" y1="221.0" x2="532.5" y2="229.0" stroke="#7fdc4e" stroke-width="1.15" /><line x1="537.6" y1="224.7" x2="586.8" y2="224.7" stroke="#7fdc4e" stroke-width="1.15" /><line x1="561.5" y1="220.7" x2="561.5" y2="228.7" stroke="#7fdc4e" stroke-width="1.15" /><polyline points="323.5,230.6 335.2,221.5 338.0,223.2 339.6,222.2 341.3,218.2 342.7,218.8 344.1,214.8 345.2,211.0 346.4,211.4 347.5,206.9 348.6,209.2 349.5,209.4 350.3,217.0 351.7,210.9 353.1,203.0 354.0,202.4 354.8,208.0 355.9,210.0 357.0,207.0 357.9,206.9 358.7,206.0 359.5,202.2 360.4,205.8 361.5,205.2 362.6,209.2 363.5,210.7 364.3,208.0 365.1,207.3 366.0,207.0 367.1,207.8 368.3,202.4 369.4,208.0 370.5,206.1 371.6,206.0 373.0,207.0 374.1,205.4 375.2,210.3 376.9,213.0 378.7,215.9 382.0,218.2 387.3,218.7 392.5,220.0 397.6,221.0 402.6,214.3 408.3,217.5 416.5,223.1 421.7,227.1 423.6,224.7 429.2,223.9 438.0,222.3 444.0,215.1 446.6,220.7 448.7,224.0 450.5,225.5 452.3,226.0 455.6,226.3 459.9,223.1 464.6,219.1 470.5,221.5 476.9,226.3 482.3,229.5 487.1,229.5 490.7,226.3 494.0,224.7 499.0,228.7 515.6,231.0 532.3,230.0 561.9,231.5" fill="none" stroke="#2b2ba6" stroke-width="1.25" stroke-linejoin="round"/><line x1="312.6" y1="230.6" x2="335.9" y2="230.6" stroke="#2b2ba6" stroke-width="1.15" /><line x1="323.5" y1="227.2" x2="323.5" y2="232.0" stroke="#2b2ba6" stroke-width="1.15" /><line x1="333.5" y1="221.5" x2="336.6" y2="221.5" stroke="#2b2ba6" stroke-width="1.15" /><line x1="335.5" y1="217.3" x2="335.5" y2="225.7" stroke="#2b2ba6" stroke-width="1.15" /><line x1="336.6" y1="223.2" x2="338.8" y2="223.2" stroke="#2b2ba6" stroke-width="1.15" /><line x1="338.5" y1="221.5" x2="338.5" y2="224.9" stroke="#2b2ba6" stroke-width="1.15" /><line x1="338.8" y1="222.2" x2="340.5" y2="222.2" stroke="#2b2ba6" stroke-width="1.15" /><line x1="339.5" y1="217.9" x2="339.5" y2="226.5" stroke="#2b2ba6" stroke-width="1.15" /><line x1="340.5" y1="218.2" x2="342.0" y2="218.2" stroke="#2b2ba6" stroke-width="1.15" /><line x1="341.5" y1="214.1" x2="341.5" y2="222.3" stroke="#2b2ba6" stroke-width="1.15" /><line x1="342.0" y1="218.8" x2="343.4" y2="218.8" stroke="#2b2ba6" stroke-width="1.15" /><line x1="342.5" y1="213.4" x2="342.5" y2="224.3" stroke="#2b2ba6" stroke-width="1.15" /><line x1="343.4" y1="214.8" x2="344.6" y2="214.8" stroke="#2b2ba6" stroke-width="1.15" /><line x1="344.5" y1="210.0" x2="344.5" y2="219.6" stroke="#2b2ba6" stroke-width="1.15" /><line x1="344.6" y1="211.0" x2="345.8" y2="211.0" stroke="#2b2ba6" stroke-width="1.15" /><line x1="345.5" y1="208.4" x2="345.5" y2="213.6" stroke="#2b2ba6" stroke-width="1.15" /><line x1="345.8" y1="211.4" x2="346.9" y2="211.4" stroke="#2b2ba6" stroke-width="1.15" /><line x1="346.5" y1="208.4" x2="346.5" y2="214.4" stroke="#2b2ba6" stroke-width="1.15" /><line x1="346.9" y1="206.9" x2="348.1" y2="206.9" stroke="#2b2ba6" stroke-width="1.15" /><line x1="347.5" y1="202.7" x2="347.5" y2="211.0" stroke="#2b2ba6" stroke-width="1.15" /><line x1="348.1" y1="209.2" x2="349.1" y2="209.2" stroke="#2b2ba6" stroke-width="1.15" /><line x1="348.5" y1="207.6" x2="348.5" y2="210.8" stroke="#2b2ba6" stroke-width="1.15" /><line x1="349.1" y1="209.4" x2="349.9" y2="209.4" stroke="#2b2ba6" stroke-width="1.15" /><line x1="349.5" y1="206.1" x2="349.5" y2="212.8" stroke="#2b2ba6" stroke-width="1.15" /><line x1="349.9" y1="217.0" x2="351.0" y2="217.0" stroke="#2b2ba6" stroke-width="1.15" /><line x1="350.5" y1="214.8" x2="350.5" y2="219.2" stroke="#2b2ba6" stroke-width="1.15" /><line x1="351.0" y1="210.9" x2="352.4" y2="210.9" stroke="#2b2ba6" stroke-width="1.15" /><line x1="351.5" y1="209.0" x2="351.5" y2="212.9" stroke="#2b2ba6" stroke-width="1.15" /><line x1="352.4" y1="203.0" x2="353.6" y2="203.0" stroke="#2b2ba6" stroke-width="1.15" /><line x1="353.5" y1="193.0" x2="353.5" y2="213.0" stroke="#2b2ba6" stroke-width="1.15" /><line x1="353.6" y1="202.4" x2="354.4" y2="202.4" stroke="#2b2ba6" stroke-width="1.15" /><line x1="354.5" y1="197.9" x2="354.5" y2="207.0" stroke="#2b2ba6" stroke-width="1.15" /><line x1="354.4" y1="208.0" x2="355.4" y2="208.0" stroke="#2b2ba6" stroke-width="1.15" /><line x1="354.5" y1="206.0" x2="354.5" y2="210.0" stroke="#2b2ba6" stroke-width="1.15" /><line x1="355.4" y1="210.0" x2="356.4" y2="210.0" stroke="#2b2ba6" stroke-width="1.15" /><line x1="355.5" y1="207.5" x2="355.5" y2="212.5" stroke="#2b2ba6" stroke-width="1.15" /><line x1="356.4" y1="207.0" x2="357.4" y2="207.0" stroke="#2b2ba6" stroke-width="1.15" /><line x1="357.5" y1="203.9" x2="357.5" y2="210.1" stroke="#2b2ba6" stroke-width="1.15" /><line x1="357.4" y1="206.9" x2="358.3" y2="206.9" stroke="#2b2ba6" stroke-width="1.15" /><line x1="357.5" y1="201.9" x2="357.5" y2="211.9" stroke="#2b2ba6" stroke-width="1.15" /><line x1="358.3" y1="206.0" x2="359.1" y2="206.0" stroke="#2b2ba6" stroke-width="1.15" /><line x1="358.5" y1="204.2" x2="358.5" y2="207.8" stroke="#2b2ba6" stroke-width="1.15" /><line x1="359.1" y1="202.2" x2="359.9" y2="202.2" stroke="#2b2ba6" stroke-width="1.15" /><line x1="359.5" y1="198.9" x2="359.5" y2="205.5" stroke="#2b2ba6" stroke-width="1.15" /><line x1="359.9" y1="205.8" x2="360.9" y2="205.8" stroke="#2b2ba6" stroke-width="1.15" /><line x1="360.5" y1="202.1" x2="360.5" y2="209.5" stroke="#2b2ba6" stroke-width="1.15" /><line x1="360.9" y1="205.2" x2="362.1" y2="205.2" stroke="#2b2ba6" stroke-width="1.15" /><line x1="361.5" y1="200.1" x2="361.5" y2="210.2" stroke="#2b2ba6" stroke-width="1.15" /><line x1="362.1" y1="209.2" x2="363.1" y2="209.2" stroke="#2b2ba6" stroke-width="1.15" /><line x1="362.5" y1="204.4" x2="362.5" y2="214.0" stroke="#2b2ba6" stroke-width="1.15" /><line x1="363.1" y1="210.7" x2="363.9" y2="210.7" stroke="#2b2ba6" stroke-width="1.15" /><line x1="363.5" y1="205.7" x2="363.5" y2="215.7" stroke="#2b2ba6" stroke-width="1.15" /><line x1="363.9" y1="208.0" x2="364.7" y2="208.0" stroke="#2b2ba6" stroke-width="1.15" /><line x1="364.5" y1="205.4" x2="364.5" y2="210.6" stroke="#2b2ba6" stroke-width="1.15" /><line x1="364.7" y1="207.3" x2="365.6" y2="207.3" stroke="#2b2ba6" stroke-width="1.15" /><line x1="365.5" y1="204.1" x2="365.5" y2="210.5" stroke="#2b2ba6" stroke-width="1.15" /><line x1="365.6" y1="207.0" x2="366.6" y2="207.0" stroke="#2b2ba6" stroke-width="1.15" /><line x1="366.5" y1="204.1" x2="366.5" y2="209.9" stroke="#2b2ba6" stroke-width="1.15" /><line x1="366.6" y1="207.8" x2="367.7" y2="207.8" stroke="#2b2ba6" stroke-width="1.15" /><line x1="367.5" y1="202.8" x2="367.5" y2="212.8" stroke="#2b2ba6" stroke-width="1.15" /><line x1="367.7" y1="202.4" x2="368.9" y2="202.4" stroke="#2b2ba6" stroke-width="1.15" /><line x1="368.5" y1="197.1" x2="368.5" y2="207.7" stroke="#2b2ba6" stroke-width="1.15" /><line x1="368.9" y1="208.0" x2="369.9" y2="208.0" stroke="#2b2ba6" stroke-width="1.15" /><line x1="369.5" y1="205.9" x2="369.5" y2="210.1" stroke="#2b2ba6" stroke-width="1.15" /><line x1="369.9" y1="206.1" x2="371.1" y2="206.1" stroke="#2b2ba6" stroke-width="1.15" /><line x1="370.5" y1="203.9" x2="370.5" y2="208.3" stroke="#2b2ba6" stroke-width="1.15" /><line x1="371.1" y1="206.0" x2="372.3" y2="206.0" stroke="#2b2ba6" stroke-width="1.15" /><line x1="371.5" y1="203.6" x2="371.5" y2="208.4" stroke="#2b2ba6" stroke-width="1.15" /><line x1="372.3" y1="207.0" x2="373.6" y2="207.0" stroke="#2b2ba6" stroke-width="1.15" /><line x1="373.5" y1="204.6" x2="373.5" y2="209.4" stroke="#2b2ba6" stroke-width="1.15" /><line x1="373.6" y1="205.4" x2="374.6" y2="205.4" stroke="#2b2ba6" stroke-width="1.15" /><line x1="374.5" y1="202.0" x2="374.5" y2="208.8" stroke="#2b2ba6" stroke-width="1.15" /><line x1="374.6" y1="210.3" x2="376.0" y2="210.3" stroke="#2b2ba6" stroke-width="1.15" /><line x1="375.5" y1="206.4" x2="375.5" y2="214.2" stroke="#2b2ba6" stroke-width="1.15" /><line x1="376.0" y1="213.0" x2="377.8" y2="213.0" stroke="#2b2ba6" stroke-width="1.15" /><line x1="376.5" y1="210.5" x2="376.5" y2="215.6" stroke="#2b2ba6" stroke-width="1.15" /><line x1="377.8" y1="215.9" x2="380.4" y2="215.9" stroke="#2b2ba6" stroke-width="1.15" /><line x1="378.5" y1="214.4" x2="378.5" y2="217.4" stroke="#2b2ba6" stroke-width="1.15" /><line x1="380.4" y1="218.2" x2="384.6" y2="218.2" stroke="#2b2ba6" stroke-width="1.15" /><line x1="382.5" y1="215.0" x2="382.5" y2="221.4" stroke="#2b2ba6" stroke-width="1.15" /><line x1="384.6" y1="218.7" x2="389.9" y2="218.7" stroke="#2b2ba6" stroke-width="1.15" /><line x1="387.5" y1="215.7" x2="387.5" y2="221.7" stroke="#2b2ba6" stroke-width="1.15" /><line x1="389.9" y1="220.0" x2="395.1" y2="220.0" stroke="#2b2ba6" stroke-width="1.15" /><line x1="392.5" y1="216.2" x2="392.5" y2="223.8" stroke="#2b2ba6" stroke-width="1.15" /><line x1="395.1" y1="221.0" x2="400.1" y2="221.0" stroke="#2b2ba6" stroke-width="1.15" /><line x1="397.5" y1="215.7" x2="397.5" y2="226.3" stroke="#2b2ba6" stroke-width="1.15" /><line x1="400.1" y1="214.3" x2="405.5" y2="214.3" stroke="#2b2ba6" stroke-width="1.15" /><line x1="402.5" y1="205.3" x2="402.5" y2="223.3" stroke="#2b2ba6" stroke-width="1.15" /><line x1="405.5" y1="217.5" x2="412.4" y2="217.5" stroke="#2b2ba6" stroke-width="1.15" /><line x1="408.5" y1="213.9" x2="408.5" y2="221.1" stroke="#2b2ba6" stroke-width="1.15" /><line x1="412.4" y1="223.1" x2="419.1" y2="223.1" stroke="#2b2ba6" stroke-width="1.15" /><line x1="416.5" y1="219.1" x2="416.5" y2="227.1" stroke="#2b2ba6" stroke-width="1.15" /><line x1="419.1" y1="227.1" x2="422.6" y2="227.1" stroke="#2b2ba6" stroke-width="1.15" /><line x1="421.5" y1="222.9" x2="421.5" y2="231.3" stroke="#2b2ba6" stroke-width="1.15" /><line x1="422.6" y1="224.7" x2="426.4" y2="224.7" stroke="#2b2ba6" stroke-width="1.15" /><line x1="423.5" y1="223.0" x2="423.5" y2="226.4" stroke="#2b2ba6" stroke-width="1.15" /><line x1="426.4" y1="223.9" x2="433.6" y2="223.9" stroke="#2b2ba6" stroke-width="1.15" /><line x1="429.5" y1="218.8" x2="429.5" y2="229.0" stroke="#2b2ba6" stroke-width="1.15" /><line x1="433.6" y1="222.3" x2="441.0" y2="222.3" stroke="#2b2ba6" stroke-width="1.15" /><line x1="438.5" y1="217.7" x2="438.5" y2="226.9" stroke="#2b2ba6" stroke-width="1.15" /><line x1="441.0" y1="215.1" x2="445.3" y2="215.1" stroke="#2b2ba6" stroke-width="1.15" /><line x1="444.5" y1="210.1" x2="444.5" y2="220.1" stroke="#2b2ba6" stroke-width="1.15" /><line x1="445.3" y1="220.7" x2="447.6" y2="220.7" stroke="#2b2ba6" stroke-width="1.15" /><line x1="446.5" y1="216.0" x2="446.5" y2="225.4" stroke="#2b2ba6" stroke-width="1.15" /><line x1="447.6" y1="224.0" x2="449.6" y2="224.0" stroke="#2b2ba6" stroke-width="1.15" /><line x1="448.5" y1="220.9" x2="448.5" y2="227.1" stroke="#2b2ba6" stroke-width="1.15" /><line x1="449.6" y1="225.5" x2="451.4" y2="225.5" stroke="#2b2ba6" stroke-width="1.15" /><line x1="450.5" y1="222.4" x2="450.5" y2="228.6" stroke="#2b2ba6" stroke-width="1.15" /><line x1="451.4" y1="226.0" x2="454.0" y2="226.0" stroke="#2b2ba6" stroke-width="1.15" /><line x1="452.5" y1="224.1" x2="452.5" y2="227.9" stroke="#2b2ba6" stroke-width="1.15" /><line x1="454.0" y1="226.3" x2="457.8" y2="226.3" stroke="#2b2ba6" stroke-width="1.15" /><line x1="455.5" y1="222.3" x2="455.5" y2="230.3" stroke="#2b2ba6" stroke-width="1.15" /><line x1="457.8" y1="223.1" x2="462.2" y2="223.1" stroke="#2b2ba6" stroke-width="1.15" /><line x1="459.5" y1="221.4" x2="459.5" y2="224.8" stroke="#2b2ba6" stroke-width="1.15" /><line x1="462.2" y1="219.1" x2="467.6" y2="219.1" stroke="#2b2ba6" stroke-width="1.15" /><line x1="464.5" y1="217.3" x2="464.5" y2="220.9" stroke="#2b2ba6" stroke-width="1.15" /><line x1="467.6" y1="221.5" x2="473.7" y2="221.5" stroke="#2b2ba6" stroke-width="1.15" /><line x1="470.5" y1="219.2" x2="470.5" y2="223.8" stroke="#2b2ba6" stroke-width="1.15" /><line x1="473.7" y1="226.3" x2="479.6" y2="226.3" stroke="#2b2ba6" stroke-width="1.15" /><line x1="476.5" y1="224.2" x2="476.5" y2="228.4" stroke="#2b2ba6" stroke-width="1.15" /><line x1="479.6" y1="229.5" x2="484.7" y2="229.5" stroke="#2b2ba6" stroke-width="1.15" /><line x1="482.5" y1="226.6" x2="482.5" y2="232.0" stroke="#2b2ba6" stroke-width="1.15" /><line x1="484.7" y1="229.5" x2="488.9" y2="229.5" stroke="#2b2ba6" stroke-width="1.15" /><line x1="487.5" y1="227.8" x2="487.5" y2="231.2" stroke="#2b2ba6" stroke-width="1.15" /><line x1="488.9" y1="226.3" x2="492.4" y2="226.3" stroke="#2b2ba6" stroke-width="1.15" /><line x1="490.5" y1="224.8" x2="490.5" y2="227.8" stroke="#2b2ba6" stroke-width="1.15" /><line x1="492.4" y1="224.7" x2="496.5" y2="224.7" stroke="#2b2ba6" stroke-width="1.15" /><line x1="494.5" y1="222.6" x2="494.5" y2="226.8" stroke="#2b2ba6" stroke-width="1.15" /><line x1="496.5" y1="228.7" x2="507.3" y2="228.7" stroke="#2b2ba6" stroke-width="1.15" /><line x1="499.5" y1="226.8" x2="499.5" y2="230.6" stroke="#2b2ba6" stroke-width="1.15" /><line x1="502.8" y1="231.0" x2="528.3" y2="231.0" stroke="#2b2ba6" stroke-width="1.15" /><line x1="515.5" y1="230.0" x2="515.5" y2="232.0" stroke="#2b2ba6" stroke-width="1.15" /><line x1="527.5" y1="230.0" x2="537.6" y2="230.0" stroke="#2b2ba6" stroke-width="1.15" /><line x1="532.5" y1="229.0" x2="532.5" y2="231.0" stroke="#2b2ba6" stroke-width="1.15" /><line x1="537.6" y1="231.5" x2="586.8" y2="231.5" stroke="#2b2ba6" stroke-width="1.15" /><line x1="561.5" y1="230.5" x2="561.5" y2="232.0" stroke="#2b2ba6" stroke-width="1.15" /><polyline points="323.5,231.3 335.2,230.5 338.0,231.0 339.6,231.0 341.3,230.0 342.7,231.0 344.1,231.0 345.2,230.7 346.4,230.0 347.5,229.7 348.6,229.5 349.5,231.2 350.3,231.0 351.7,228.7 353.1,226.0 354.0,228.2 354.8,230.0 355.9,231.4 357.0,230.0 357.9,230.7 358.7,230.5 359.5,230.2 360.4,230.0 361.5,231.5 362.6,231.0 363.5,229.5 364.3,226.0 365.1,225.4 366.0,225.0 367.1,225.7 368.3,226.0 369.4,225.0 370.5,225.8 371.6,226.0 373.0,225.0 374.1,228.5 375.2,229.0 376.9,230.5 378.7,230.0 382.0,230.5 387.3,230.0 392.5,230.5 397.6,230.5 402.6,228.0 408.3,229.5 416.5,230.5 421.7,230.5 423.6,229.0 429.2,230.0 438.0,230.8 444.0,229.5 446.6,227.0 448.7,226.0 450.5,224.0 452.3,228.0 455.6,229.5 459.9,230.0 464.6,230.5 470.5,230.5 476.9,230.0 482.3,230.5 487.1,230.5 490.7,229.0 494.0,230.0 499.0,231.0 515.6,231.5 532.3,231.3 561.9,231.8" fill="none" stroke="#dc2626" stroke-width="1.25" stroke-linejoin="round"/><line x1="312.6" y1="231.3" x2="335.9" y2="231.3" stroke="#dc2626" stroke-width="1.15" /><line x1="323.5" y1="230.7" x2="323.5" y2="232.0" stroke="#dc2626" stroke-width="1.15" /><line x1="333.5" y1="230.5" x2="336.6" y2="230.5" stroke="#dc2626" stroke-width="1.15" /><line x1="335.5" y1="229.6" x2="335.5" y2="232.0" stroke="#dc2626" stroke-width="1.15" /><line x1="336.6" y1="231.0" x2="338.8" y2="231.0" stroke="#dc2626" stroke-width="1.15" /><line x1="338.5" y1="230.5" x2="338.5" y2="232.0" stroke="#dc2626" stroke-width="1.15" /><line x1="338.8" y1="231.0" x2="340.5" y2="231.0" stroke="#dc2626" stroke-width="1.15" /><line x1="339.5" y1="228.9" x2="339.5" y2="232.0" stroke="#dc2626" stroke-width="1.15" /><line x1="340.5" y1="230.0" x2="342.0" y2="230.0" stroke="#dc2626" stroke-width="1.15" /><line x1="341.5" y1="228.8" x2="341.5" y2="232.0" stroke="#dc2626" stroke-width="1.15" /><line x1="342.0" y1="231.0" x2="343.4" y2="231.0" stroke="#dc2626" stroke-width="1.15" /><line x1="342.5" y1="230.5" x2="342.5" y2="232.0" stroke="#dc2626" stroke-width="1.15" /><line x1="343.4" y1="231.0" x2="344.6" y2="231.0" stroke="#dc2626" stroke-width="1.15" /><line x1="344.5" y1="230.2" x2="344.5" y2="232.0" stroke="#dc2626" stroke-width="1.15" /><line x1="344.6" y1="230.7" x2="345.8" y2="230.7" stroke="#dc2626" stroke-width="1.15" /><line x1="345.5" y1="230.2" x2="345.5" y2="232.0" stroke="#dc2626" stroke-width="1.15" /><line x1="345.8" y1="230.0" x2="346.9" y2="230.0" stroke="#dc2626" stroke-width="1.15" /><line x1="346.5" y1="228.0" x2="346.5" y2="232.0" stroke="#dc2626" stroke-width="1.15" /><line x1="346.9" y1="229.7" x2="348.1" y2="229.7" stroke="#dc2626" stroke-width="1.15" /><line x1="347.5" y1="229.2" x2="347.5" y2="232.0" stroke="#dc2626" stroke-width="1.15" /><line x1="348.1" y1="229.5" x2="349.1" y2="229.5" stroke="#dc2626" stroke-width="1.15" /><line x1="348.5" y1="229.2" x2="348.5" y2="232.0" stroke="#dc2626" stroke-width="1.15" /><line x1="349.1" y1="231.2" x2="349.9" y2="231.2" stroke="#dc2626" stroke-width="1.15" /><line x1="349.5" y1="229.2" x2="349.5" y2="232.0" stroke="#dc2626" stroke-width="1.15" /><line x1="349.9" y1="231.0" x2="351.0" y2="231.0" stroke="#dc2626" stroke-width="1.15" /><line x1="350.5" y1="229.4" x2="350.5" y2="232.0" stroke="#dc2626" stroke-width="1.15" /><line x1="351.0" y1="228.7" x2="352.4" y2="228.7" stroke="#dc2626" stroke-width="1.15" /><line x1="351.5" y1="227.7" x2="351.5" y2="232.0" stroke="#dc2626" stroke-width="1.15" /><line x1="352.4" y1="226.0" x2="353.6" y2="226.0" stroke="#dc2626" stroke-width="1.15" /><line x1="353.5" y1="207.0" x2="353.5" y2="232.0" stroke="#dc2626" stroke-width="1.15" /><line x1="353.6" y1="228.2" x2="354.4" y2="228.2" stroke="#dc2626" stroke-width="1.15" /><line x1="354.5" y1="226.5" x2="354.5" y2="232.0" stroke="#dc2626" stroke-width="1.15" /><line x1="354.4" y1="230.0" x2="355.4" y2="230.0" stroke="#dc2626" stroke-width="1.15" /><line x1="354.5" y1="229.3" x2="354.5" y2="232.0" stroke="#dc2626" stroke-width="1.15" /><line x1="355.4" y1="231.4" x2="356.4" y2="231.4" stroke="#dc2626" stroke-width="1.15" /><line x1="355.5" y1="229.3" x2="355.5" y2="232.0" stroke="#dc2626" stroke-width="1.15" /><line x1="356.4" y1="230.0" x2="357.4" y2="230.0" stroke="#dc2626" stroke-width="1.15" /><line x1="357.5" y1="228.2" x2="357.5" y2="232.0" stroke="#dc2626" stroke-width="1.15" /><line x1="357.4" y1="230.7" x2="358.3" y2="230.7" stroke="#dc2626" stroke-width="1.15" /><line x1="357.5" y1="229.1" x2="357.5" y2="232.0" stroke="#dc2626" stroke-width="1.15" /><line x1="358.3" y1="230.5" x2="359.1" y2="230.5" stroke="#dc2626" stroke-width="1.15" /><line x1="358.5" y1="229.3" x2="358.5" y2="232.0" stroke="#dc2626" stroke-width="1.15" /><line x1="359.1" y1="230.2" x2="359.9" y2="230.2" stroke="#dc2626" stroke-width="1.15" /><line x1="359.5" y1="229.9" x2="359.5" y2="232.0" stroke="#dc2626" stroke-width="1.15" /><line x1="359.9" y1="230.0" x2="360.9" y2="230.0" stroke="#dc2626" stroke-width="1.15" /><line x1="360.5" y1="229.2" x2="360.5" y2="232.0" stroke="#dc2626" stroke-width="1.15" /><line x1="360.9" y1="231.5" x2="362.1" y2="231.5" stroke="#dc2626" stroke-width="1.15" /><line x1="361.5" y1="230.0" x2="361.5" y2="232.0" stroke="#dc2626" stroke-width="1.15" /><line x1="362.1" y1="231.0" x2="363.1" y2="231.0" stroke="#dc2626" stroke-width="1.15" /><line x1="362.5" y1="226.2" x2="362.5" y2="232.0" stroke="#dc2626" stroke-width="1.15" /><line x1="363.1" y1="229.5" x2="363.9" y2="229.5" stroke="#dc2626" stroke-width="1.15" /><line x1="363.5" y1="226.7" x2="363.5" y2="232.0" stroke="#dc2626" stroke-width="1.15" /><line x1="363.9" y1="226.0" x2="364.7" y2="226.0" stroke="#dc2626" stroke-width="1.15" /><line x1="364.5" y1="221.3" x2="364.5" y2="232.0" stroke="#dc2626" stroke-width="1.15" /><line x1="364.7" y1="225.4" x2="365.6" y2="225.4" stroke="#dc2626" stroke-width="1.15" /><line x1="365.5" y1="220.5" x2="365.5" y2="232.0" stroke="#dc2626" stroke-width="1.15" /><line x1="365.6" y1="225.0" x2="366.6" y2="225.0" stroke="#dc2626" stroke-width="1.15" /><line x1="366.5" y1="220.2" x2="366.5" y2="232.0" stroke="#dc2626" stroke-width="1.15" /><line x1="366.6" y1="225.7" x2="367.7" y2="225.7" stroke="#dc2626" stroke-width="1.15" /><line x1="367.5" y1="223.3" x2="367.5" y2="232.0" stroke="#dc2626" stroke-width="1.15" /><line x1="367.7" y1="226.0" x2="368.9" y2="226.0" stroke="#dc2626" stroke-width="1.15" /><line x1="368.5" y1="224.1" x2="368.5" y2="232.0" stroke="#dc2626" stroke-width="1.15" /><line x1="368.9" y1="225.0" x2="369.9" y2="225.0" stroke="#dc2626" stroke-width="1.15" /><line x1="369.5" y1="223.1" x2="369.5" y2="232.0" stroke="#dc2626" stroke-width="1.15" /><line x1="369.9" y1="225.8" x2="371.1" y2="225.8" stroke="#dc2626" stroke-width="1.15" /><line x1="370.5" y1="224.0" x2="370.5" y2="232.0" stroke="#dc2626" stroke-width="1.15" /><line x1="371.1" y1="226.0" x2="372.3" y2="226.0" stroke="#dc2626" stroke-width="1.15" /><line x1="371.5" y1="224.2" x2="371.5" y2="232.0" stroke="#dc2626" stroke-width="1.15" /><line x1="372.3" y1="225.0" x2="373.6" y2="225.0" stroke="#dc2626" stroke-width="1.15" /><line x1="373.5" y1="221.5" x2="373.5" y2="232.0" stroke="#dc2626" stroke-width="1.15" /><line x1="373.6" y1="228.5" x2="374.6" y2="228.5" stroke="#dc2626" stroke-width="1.15" /><line x1="374.5" y1="223.9" x2="374.5" y2="232.0" stroke="#dc2626" stroke-width="1.15" /><line x1="374.6" y1="229.0" x2="376.0" y2="229.0" stroke="#dc2626" stroke-width="1.15" /><line x1="375.5" y1="224.6" x2="375.5" y2="232.0" stroke="#dc2626" stroke-width="1.15" /><line x1="376.0" y1="230.5" x2="377.8" y2="230.5" stroke="#dc2626" stroke-width="1.15" /><line x1="376.5" y1="227.6" x2="376.5" y2="232.0" stroke="#dc2626" stroke-width="1.15" /><line x1="377.8" y1="230.0" x2="380.4" y2="230.0" stroke="#dc2626" stroke-width="1.15" /><line x1="378.5" y1="226.4" x2="378.5" y2="232.0" stroke="#dc2626" stroke-width="1.15" /><line x1="380.4" y1="230.5" x2="384.6" y2="230.5" stroke="#dc2626" stroke-width="1.15" /><line x1="382.5" y1="226.3" x2="382.5" y2="232.0" stroke="#dc2626" stroke-width="1.15" /><line x1="384.6" y1="230.0" x2="389.9" y2="230.0" stroke="#dc2626" stroke-width="1.15" /><line x1="387.5" y1="228.7" x2="387.5" y2="232.0" stroke="#dc2626" stroke-width="1.15" /><line x1="389.9" y1="230.5" x2="395.1" y2="230.5" stroke="#dc2626" stroke-width="1.15" /><line x1="392.5" y1="226.9" x2="392.5" y2="232.0" stroke="#dc2626" stroke-width="1.15" /><line x1="395.1" y1="230.5" x2="400.1" y2="230.5" stroke="#dc2626" stroke-width="1.15" /><line x1="397.5" y1="225.9" x2="397.5" y2="232.0" stroke="#dc2626" stroke-width="1.15" /><line x1="400.1" y1="228.0" x2="405.5" y2="228.0" stroke="#dc2626" stroke-width="1.15" /><line x1="402.5" y1="222.0" x2="402.5" y2="232.0" stroke="#dc2626" stroke-width="1.15" /><line x1="405.5" y1="229.5" x2="412.4" y2="229.5" stroke="#dc2626" stroke-width="1.15" /><line x1="408.5" y1="225.5" x2="408.5" y2="232.0" stroke="#dc2626" stroke-width="1.15" /><line x1="412.4" y1="230.5" x2="419.1" y2="230.5" stroke="#dc2626" stroke-width="1.15" /><line x1="416.5" y1="227.6" x2="416.5" y2="232.0" stroke="#dc2626" stroke-width="1.15" /><line x1="419.1" y1="230.5" x2="422.6" y2="230.5" stroke="#dc2626" stroke-width="1.15" /><line x1="421.5" y1="228.8" x2="421.5" y2="232.0" stroke="#dc2626" stroke-width="1.15" /><line x1="422.6" y1="229.0" x2="426.4" y2="229.0" stroke="#dc2626" stroke-width="1.15" /><line x1="423.5" y1="220.0" x2="423.5" y2="232.0" stroke="#dc2626" stroke-width="1.15" /><line x1="426.4" y1="230.0" x2="433.6" y2="230.0" stroke="#dc2626" stroke-width="1.15" /><line x1="429.5" y1="227.7" x2="429.5" y2="232.0" stroke="#dc2626" stroke-width="1.15" /><line x1="433.6" y1="230.8" x2="441.0" y2="230.8" stroke="#dc2626" stroke-width="1.15" /><line x1="438.5" y1="226.6" x2="438.5" y2="232.0" stroke="#dc2626" stroke-width="1.15" /><line x1="441.0" y1="229.5" x2="445.3" y2="229.5" stroke="#dc2626" stroke-width="1.15" /><line x1="444.5" y1="224.6" x2="444.5" y2="232.0" stroke="#dc2626" stroke-width="1.15" /><line x1="445.3" y1="227.0" x2="447.6" y2="227.0" stroke="#dc2626" stroke-width="1.15" /><line x1="446.5" y1="224.4" x2="446.5" y2="232.0" stroke="#dc2626" stroke-width="1.15" /><line x1="447.6" y1="226.0" x2="449.6" y2="226.0" stroke="#dc2626" stroke-width="1.15" /><line x1="448.5" y1="223.4" x2="448.5" y2="232.0" stroke="#dc2626" stroke-width="1.15" /><line x1="449.6" y1="224.0" x2="451.4" y2="224.0" stroke="#dc2626" stroke-width="1.15" /><line x1="450.5" y1="219.2" x2="450.5" y2="232.0" stroke="#dc2626" stroke-width="1.15" /><line x1="451.4" y1="228.0" x2="454.0" y2="228.0" stroke="#dc2626" stroke-width="1.15" /><line x1="452.5" y1="169.0" x2="452.5" y2="232.0" stroke="#dc2626" stroke-width="1.15" /><line x1="454.0" y1="229.5" x2="457.8" y2="229.5" stroke="#dc2626" stroke-width="1.15" /><line x1="455.5" y1="227.8" x2="455.5" y2="232.0" stroke="#dc2626" stroke-width="1.15" /><line x1="457.8" y1="230.0" x2="462.2" y2="230.0" stroke="#dc2626" stroke-width="1.15" /><line x1="459.5" y1="228.5" x2="459.5" y2="232.0" stroke="#dc2626" stroke-width="1.15" /><line x1="462.2" y1="230.5" x2="467.6" y2="230.5" stroke="#dc2626" stroke-width="1.15" /><line x1="464.5" y1="228.9" x2="464.5" y2="232.0" stroke="#dc2626" stroke-width="1.15" /><line x1="467.6" y1="230.5" x2="473.7" y2="230.5" stroke="#dc2626" stroke-width="1.15" /><line x1="470.5" y1="225.9" x2="470.5" y2="232.0" stroke="#dc2626" stroke-width="1.15" /><line x1="473.7" y1="230.0" x2="479.6" y2="230.0" stroke="#dc2626" stroke-width="1.15" /><line x1="476.5" y1="225.8" x2="476.5" y2="232.0" stroke="#dc2626" stroke-width="1.15" /><line x1="479.6" y1="230.5" x2="484.7" y2="230.5" stroke="#dc2626" stroke-width="1.15" /><line x1="482.5" y1="228.9" x2="482.5" y2="232.0" stroke="#dc2626" stroke-width="1.15" /><line x1="484.7" y1="230.5" x2="488.9" y2="230.5" stroke="#dc2626" stroke-width="1.15" /><line x1="487.5" y1="226.2" x2="487.5" y2="232.0" stroke="#dc2626" stroke-width="1.15" /><line x1="488.9" y1="229.0" x2="492.4" y2="229.0" stroke="#dc2626" stroke-width="1.15" /><line x1="490.5" y1="224.1" x2="490.5" y2="232.0" stroke="#dc2626" stroke-width="1.15" /><line x1="492.4" y1="230.0" x2="496.5" y2="230.0" stroke="#dc2626" stroke-width="1.15" /><line x1="494.5" y1="226.4" x2="494.5" y2="232.0" stroke="#dc2626" stroke-width="1.15" /><line x1="496.5" y1="231.0" x2="507.3" y2="231.0" stroke="#dc2626" stroke-width="1.15" /><line x1="499.5" y1="228.6" x2="499.5" y2="232.0" stroke="#dc2626" stroke-width="1.15" /><line x1="502.8" y1="231.5" x2="528.3" y2="231.5" stroke="#dc2626" stroke-width="1.15" /><line x1="515.5" y1="230.7" x2="515.5" y2="232.0" stroke="#dc2626" stroke-width="1.15" /><line x1="527.5" y1="231.3" x2="537.6" y2="231.3" stroke="#dc2626" stroke-width="1.15" /><line x1="532.5" y1="230.5" x2="532.5" y2="232.0" stroke="#dc2626" stroke-width="1.15" /><line x1="537.6" y1="231.8" x2="586.8" y2="231.8" stroke="#dc2626" stroke-width="1.15" /><line x1="561.5" y1="231.0" x2="561.5" y2="232.0" stroke="#dc2626" stroke-width="1.15" /></g>
<g clip-path="url(#cb2)"><polyline points="324.3,408.1 335.2,370.4 338.0,277.4 339.6,274.3 341.3,264.7 342.7,300.6 344.1,278.1 345.2,286.7 346.4,286.1 347.5,256.5 348.6,297.5 349.5,261.2 350.3,271.8 351.7,279.1 353.1,290.2 354.0,287.7 354.8,288.5 355.9,255.5 357.0,262.2 357.9,295.9 358.7,269.8 359.5,256.2 360.4,277.8 361.5,254.2 362.6,313.0 363.5,298.0 364.3,302.0 365.1,302.5 366.0,315.1 367.1,326.2 368.3,342.4 369.4,323.5 370.5,329.6 371.6,348.5 373.0,363.9 374.1,368.8 375.2,370.4 376.9,386.9 378.5,393.0 382.0,388.5 387.0,365.5 392.5,385.5 397.6,380.5 402.6,341.7 408.3,360.0 416.5,354.4 421.7,415.7 423.6,410.5 428.8,402.4 438.0,285.0 444.4,326.4 448.5,455.6 449.7,460.6 451.0,450.6 455.4,391.5 459.9,377.5 464.4,362.7 470.8,383.0 477.2,385.5 482.3,435.6 487.1,430.6 490.7,420.5 493.5,308.8 499.0,374.5 515.6,455.7 532.3,423.6 561.9,462.1" fill="none" stroke="#2b2ba6" stroke-width="1.25" stroke-linejoin="round"/><line x1="312.6" y1="408.1" x2="335.9" y2="408.1" stroke="#2b2ba6" stroke-width="1.15" /><line x1="324.5" y1="422.8" x2="324.5" y2="365.6" stroke="#2b2ba6" stroke-width="1.15" /><line x1="333.5" y1="370.4" x2="336.6" y2="370.4" stroke="#2b2ba6" stroke-width="1.15" /><line x1="335.5" y1="422.5" x2="335.5" y2="340.4" stroke="#2b2ba6" stroke-width="1.15" /><line x1="336.6" y1="277.4" x2="338.8" y2="277.4" stroke="#2b2ba6" stroke-width="1.15" /><line x1="338.5" y1="343.5" x2="338.5" y2="240.4" stroke="#2b2ba6" stroke-width="1.15" /><line x1="338.8" y1="274.3" x2="340.5" y2="274.3" stroke="#2b2ba6" stroke-width="1.15" /><line x1="339.5" y1="341.6" x2="339.5" y2="240.8" stroke="#2b2ba6" stroke-width="1.15" /><line x1="340.5" y1="264.7" x2="342.0" y2="264.7" stroke="#2b2ba6" stroke-width="1.15" /><line x1="341.5" y1="264.7" x2="341.5" y2="264.7" stroke="#2b2ba6" stroke-width="1.15" /><line x1="342.0" y1="300.6" x2="343.4" y2="300.6" stroke="#2b2ba6" stroke-width="1.15" /><line x1="342.5" y1="344.4" x2="342.5" y2="287.4" stroke="#2b2ba6" stroke-width="1.15" /><line x1="343.4" y1="278.1" x2="344.6" y2="278.1" stroke="#2b2ba6" stroke-width="1.15" /><line x1="344.5" y1="335.7" x2="344.5" y2="252.2" stroke="#2b2ba6" stroke-width="1.15" /><line x1="344.6" y1="286.7" x2="345.8" y2="286.7" stroke="#2b2ba6" stroke-width="1.15" /><line x1="345.5" y1="286.7" x2="345.5" y2="286.7" stroke="#2b2ba6" stroke-width="1.15" /><line x1="345.8" y1="286.1" x2="346.9" y2="286.1" stroke="#2b2ba6" stroke-width="1.15" /><line x1="346.5" y1="357.0" x2="346.5" y2="253.4" stroke="#2b2ba6" stroke-width="1.15" /><line x1="346.9" y1="256.5" x2="348.1" y2="256.5" stroke="#2b2ba6" stroke-width="1.15" /><line x1="347.5" y1="358.9" x2="347.5" y2="239.2" stroke="#2b2ba6" stroke-width="1.15" /><line x1="348.1" y1="297.5" x2="349.1" y2="297.5" stroke="#2b2ba6" stroke-width="1.15" /><line x1="348.5" y1="297.5" x2="348.5" y2="297.5" stroke="#2b2ba6" stroke-width="1.15" /><line x1="349.1" y1="261.2" x2="349.9" y2="261.2" stroke="#2b2ba6" stroke-width="1.15" /><line x1="349.5" y1="355.7" x2="349.5" y2="242.9" stroke="#2b2ba6" stroke-width="1.15" /><line x1="349.9" y1="271.8" x2="351.0" y2="271.8" stroke="#2b2ba6" stroke-width="1.15" /><line x1="350.5" y1="346.6" x2="350.5" y2="255.0" stroke="#2b2ba6" stroke-width="1.15" /><line x1="351.0" y1="279.1" x2="352.4" y2="279.1" stroke="#2b2ba6" stroke-width="1.15" /><line x1="351.5" y1="279.1" x2="351.5" y2="279.1" stroke="#2b2ba6" stroke-width="1.15" /><line x1="352.4" y1="290.2" x2="353.6" y2="290.2" stroke="#2b2ba6" stroke-width="1.15" /><line x1="353.5" y1="348.1" x2="353.5" y2="255.1" stroke="#2b2ba6" stroke-width="1.15" /><line x1="353.6" y1="287.7" x2="354.4" y2="287.7" stroke="#2b2ba6" stroke-width="1.15" /><line x1="354.5" y1="337.6" x2="354.5" y2="267.1" stroke="#2b2ba6" stroke-width="1.15" /><line x1="354.4" y1="288.5" x2="355.4" y2="288.5" stroke="#2b2ba6" stroke-width="1.15" /><line x1="354.5" y1="288.5" x2="354.5" y2="288.5" stroke="#2b2ba6" stroke-width="1.15" /><line x1="355.4" y1="255.5" x2="356.4" y2="255.5" stroke="#2b2ba6" stroke-width="1.15" /><line x1="355.5" y1="353.9" x2="355.5" y2="239.7" stroke="#2b2ba6" stroke-width="1.15" /><line x1="356.4" y1="262.2" x2="357.4" y2="262.2" stroke="#2b2ba6" stroke-width="1.15" /><line x1="357.5" y1="333.0" x2="357.5" y2="245.3" stroke="#2b2ba6" stroke-width="1.15" /><line x1="357.4" y1="295.9" x2="358.3" y2="295.9" stroke="#2b2ba6" stroke-width="1.15" /><line x1="357.5" y1="295.9" x2="357.5" y2="295.9" stroke="#2b2ba6" stroke-width="1.15" /><line x1="358.3" y1="269.8" x2="359.1" y2="269.8" stroke="#2b2ba6" stroke-width="1.15" /><line x1="358.5" y1="350.9" x2="358.5" y2="253.4" stroke="#2b2ba6" stroke-width="1.15" /><line x1="359.1" y1="256.2" x2="359.9" y2="256.2" stroke="#2b2ba6" stroke-width="1.15" /><line x1="359.5" y1="342.0" x2="359.5" y2="237.0" stroke="#2b2ba6" stroke-width="1.15" /><line x1="359.9" y1="277.8" x2="360.9" y2="277.8" stroke="#2b2ba6" stroke-width="1.15" /><line x1="360.5" y1="277.8" x2="360.5" y2="277.8" stroke="#2b2ba6" stroke-width="1.15" /><line x1="360.9" y1="254.2" x2="362.1" y2="254.2" stroke="#2b2ba6" stroke-width="1.15" /><line x1="361.5" y1="331.9" x2="361.5" y2="233.5" stroke="#2b2ba6" stroke-width="1.15" /><line x1="362.1" y1="313.0" x2="363.1" y2="313.0" stroke="#2b2ba6" stroke-width="1.15" /><line x1="362.5" y1="361.6" x2="362.5" y2="278.4" stroke="#2b2ba6" stroke-width="1.15" /><line x1="363.1" y1="298.0" x2="363.9" y2="298.0" stroke="#2b2ba6" stroke-width="1.15" /><line x1="363.5" y1="298.0" x2="363.5" y2="298.0" stroke="#2b2ba6" stroke-width="1.15" /><line x1="363.9" y1="302.0" x2="364.7" y2="302.0" stroke="#2b2ba6" stroke-width="1.15" /><line x1="364.5" y1="345.8" x2="364.5" y2="278.4" stroke="#2b2ba6" stroke-width="1.15" /><line x1="364.7" y1="302.5" x2="365.6" y2="302.5" stroke="#2b2ba6" stroke-width="1.15" /><line x1="365.5" y1="339.7" x2="365.5" y2="278.4" stroke="#2b2ba6" stroke-width="1.15" /><line x1="365.6" y1="315.1" x2="366.6" y2="315.1" stroke="#2b2ba6" stroke-width="1.15" /><line x1="366.5" y1="315.1" x2="366.5" y2="315.1" stroke="#2b2ba6" stroke-width="1.15" /><line x1="366.6" y1="326.2" x2="367.7" y2="326.2" stroke="#2b2ba6" stroke-width="1.15" /><line x1="367.5" y1="370.8" x2="367.5" y2="289.8" stroke="#2b2ba6" stroke-width="1.15" /><line x1="367.7" y1="342.4" x2="368.9" y2="342.4" stroke="#2b2ba6" stroke-width="1.15" /><line x1="368.5" y1="383.9" x2="368.5" y2="308.3" stroke="#2b2ba6" stroke-width="1.15" /><line x1="368.9" y1="323.5" x2="369.9" y2="323.5" stroke="#2b2ba6" stroke-width="1.15" /><line x1="369.5" y1="323.5" x2="369.5" y2="323.5" stroke="#2b2ba6" stroke-width="1.15" /><line x1="369.9" y1="329.6" x2="371.1" y2="329.6" stroke="#2b2ba6" stroke-width="1.15" /><line x1="370.5" y1="372.5" x2="370.5" y2="296.4" stroke="#2b2ba6" stroke-width="1.15" /><line x1="371.1" y1="348.5" x2="372.3" y2="348.5" stroke="#2b2ba6" stroke-width="1.15" /><line x1="371.5" y1="394.7" x2="371.5" y2="304.4" stroke="#2b2ba6" stroke-width="1.15" /><line x1="372.3" y1="363.9" x2="373.6" y2="363.9" stroke="#2b2ba6" stroke-width="1.15" /><line x1="373.5" y1="363.9" x2="373.5" y2="363.9" stroke="#2b2ba6" stroke-width="1.15" /><line x1="373.6" y1="368.8" x2="374.6" y2="368.8" stroke="#2b2ba6" stroke-width="1.15" /><line x1="374.5" y1="406.8" x2="374.5" y2="339.4" stroke="#2b2ba6" stroke-width="1.15" /><line x1="374.6" y1="370.4" x2="376.0" y2="370.4" stroke="#2b2ba6" stroke-width="1.15" /><line x1="375.5" y1="347.5" x2="375.5" y2="248.4" stroke="#2b2ba6" stroke-width="1.15" /><line x1="376.0" y1="386.9" x2="377.8" y2="386.9" stroke="#2b2ba6" stroke-width="1.15" /><line x1="376.5" y1="386.9" x2="376.5" y2="386.9" stroke="#2b2ba6" stroke-width="1.15" /><line x1="377.8" y1="393.0" x2="380.4" y2="393.0" stroke="#2b2ba6" stroke-width="1.15" /><line x1="378.5" y1="440.6" x2="378.5" y2="350.5" stroke="#2b2ba6" stroke-width="1.15" /><line x1="380.4" y1="388.5" x2="384.6" y2="388.5" stroke="#2b2ba6" stroke-width="1.15" /><line x1="382.5" y1="430.6" x2="382.5" y2="340.4" stroke="#2b2ba6" stroke-width="1.15" /><line x1="384.6" y1="365.5" x2="389.9" y2="365.5" stroke="#2b2ba6" stroke-width="1.15" /><line x1="387.5" y1="420.5" x2="387.5" y2="330.4" stroke="#2b2ba6" stroke-width="1.15" /><line x1="389.9" y1="385.5" x2="395.1" y2="385.5" stroke="#2b2ba6" stroke-width="1.15" /><line x1="392.5" y1="425.6" x2="392.5" y2="345.4" stroke="#2b2ba6" stroke-width="1.15" /><line x1="395.1" y1="380.5" x2="400.1" y2="380.5" stroke="#2b2ba6" stroke-width="1.15" /><line x1="397.5" y1="420.5" x2="397.5" y2="340.4" stroke="#2b2ba6" stroke-width="1.15" /><line x1="400.1" y1="341.7" x2="405.5" y2="341.7" stroke="#2b2ba6" stroke-width="1.15" /><line x1="402.5" y1="400.5" x2="402.5" y2="291.1" stroke="#2b2ba6" stroke-width="1.15" /><line x1="405.5" y1="360.0" x2="412.4" y2="360.0" stroke="#2b2ba6" stroke-width="1.15" /><line x1="408.5" y1="410.5" x2="408.5" y2="291.8" stroke="#2b2ba6" stroke-width="1.15" /><line x1="412.4" y1="354.4" x2="419.1" y2="354.4" stroke="#2b2ba6" stroke-width="1.15" /><line x1="416.5" y1="390.5" x2="416.5" y2="309.6" stroke="#2b2ba6" stroke-width="1.15" /><line x1="419.1" y1="415.7" x2="422.6" y2="415.7" stroke="#2b2ba6" stroke-width="1.15" /><line x1="421.5" y1="440.6" x2="421.5" y2="380.5" stroke="#2b2ba6" stroke-width="1.15" /><line x1="422.6" y1="410.5" x2="426.4" y2="410.5" stroke="#2b2ba6" stroke-width="1.15" /><line x1="423.5" y1="440.6" x2="423.5" y2="370.5" stroke="#2b2ba6" stroke-width="1.15" /><line x1="426.4" y1="402.4" x2="433.6" y2="402.4" stroke="#2b2ba6" stroke-width="1.15" /><line x1="428.5" y1="440.6" x2="428.5" y2="360.5" stroke="#2b2ba6" stroke-width="1.15" /><line x1="433.6" y1="285.0" x2="441.0" y2="285.0" stroke="#2b2ba6" stroke-width="1.15" /><line x1="438.5" y1="355.2" x2="438.5" y2="233.3" stroke="#2b2ba6" stroke-width="1.15" /><line x1="441.0" y1="326.4" x2="445.3" y2="326.4" stroke="#2b2ba6" stroke-width="1.15" /><line x1="444.5" y1="400.5" x2="444.5" y2="243.9" stroke="#2b2ba6" stroke-width="1.15" /><line x1="447.6" y1="455.6" x2="449.6" y2="455.6" stroke="#2b2ba6" stroke-width="1.15" /><line x1="448.5" y1="462.6" x2="448.5" y2="440.6" stroke="#2b2ba6" stroke-width="1.15" /><line x1="449.6" y1="460.6" x2="451.4" y2="460.6" stroke="#2b2ba6" stroke-width="1.15" /><line x1="449.5" y1="462.6" x2="449.5" y2="445.6" stroke="#2b2ba6" stroke-width="1.15" /><line x1="449.6" y1="450.6" x2="451.4" y2="450.6" stroke="#2b2ba6" stroke-width="1.15" /><line x1="451.5" y1="462.6" x2="451.5" y2="430.6" stroke="#2b2ba6" stroke-width="1.15" /><line x1="454.0" y1="391.5" x2="457.8" y2="391.5" stroke="#2b2ba6" stroke-width="1.15" /><line x1="455.5" y1="430.6" x2="455.5" y2="350.5" stroke="#2b2ba6" stroke-width="1.15" /><line x1="457.8" y1="377.5" x2="462.2" y2="377.5" stroke="#2b2ba6" stroke-width="1.15" /><line x1="459.5" y1="420.5" x2="459.5" y2="280.7" stroke="#2b2ba6" stroke-width="1.15" /><line x1="462.2" y1="362.7" x2="467.6" y2="362.7" stroke="#2b2ba6" stroke-width="1.15" /><line x1="464.5" y1="420.5" x2="464.5" y2="293.4" stroke="#2b2ba6" stroke-width="1.15" /><line x1="467.6" y1="383.0" x2="473.7" y2="383.0" stroke="#2b2ba6" stroke-width="1.15" /><line x1="470.5" y1="430.6" x2="470.5" y2="340.4" stroke="#2b2ba6" stroke-width="1.15" /><line x1="473.7" y1="385.5" x2="479.6" y2="385.5" stroke="#2b2ba6" stroke-width="1.15" /><line x1="477.5" y1="430.6" x2="477.5" y2="345.4" stroke="#2b2ba6" stroke-width="1.15" /><line x1="479.6" y1="435.6" x2="484.7" y2="435.6" stroke="#2b2ba6" stroke-width="1.15" /><line x1="482.5" y1="455.6" x2="482.5" y2="410.5" stroke="#2b2ba6" stroke-width="1.15" /><line x1="484.7" y1="430.6" x2="488.9" y2="430.6" stroke="#2b2ba6" stroke-width="1.15" /><line x1="487.5" y1="452.6" x2="487.5" y2="405.5" stroke="#2b2ba6" stroke-width="1.15" /><line x1="488.9" y1="420.5" x2="492.4" y2="420.5" stroke="#2b2ba6" stroke-width="1.15" /><line x1="490.5" y1="450.6" x2="490.5" y2="390.5" stroke="#2b2ba6" stroke-width="1.15" /><line x1="492.4" y1="308.8" x2="496.5" y2="308.8" stroke="#2b2ba6" stroke-width="1.15" /><line x1="493.5" y1="440.6" x2="493.5" y2="248.7" stroke="#2b2ba6" stroke-width="1.15" /><line x1="496.5" y1="374.5" x2="507.3" y2="374.5" stroke="#2b2ba6" stroke-width="1.15" /><line x1="499.5" y1="410.5" x2="499.5" y2="278.3" stroke="#2b2ba6" stroke-width="1.15" /><line x1="502.8" y1="455.7" x2="528.3" y2="455.7" stroke="#2b2ba6" stroke-width="1.15" /><line x1="515.5" y1="459.6" x2="515.5" y2="447.6" stroke="#2b2ba6" stroke-width="1.15" /><line x1="527.5" y1="423.6" x2="537.6" y2="423.6" stroke="#2b2ba6" stroke-width="1.15" /><line x1="532.5" y1="440.6" x2="532.5" y2="405.5" stroke="#2b2ba6" stroke-width="1.15" /><line x1="537.6" y1="462.1" x2="586.8" y2="462.1" stroke="#2b2ba6" stroke-width="1.15" /><line x1="561.5" y1="462.6" x2="561.5" y2="458.6" stroke="#2b2ba6" stroke-width="1.15" /><polyline points="324.3,296.4 335.2,340.7 338.0,426.7 339.6,449.8 341.3,395.7 342.7,443.9 344.1,415.9 345.2,403.4 346.4,430.8 347.5,399.1 348.6,438.9 349.5,449.4 350.3,410.2 351.7,395.3 353.1,415.8 354.0,437.3 354.8,427.5 355.9,399.2 357.0,396.6 357.9,440.9 358.7,410.9 359.5,398.6 360.4,432.8 361.5,412.7 362.6,373.7 363.5,402.0 364.3,367.1 365.1,365.0 366.0,368.8 367.1,370.7 368.3,372.6 369.4,364.5 370.5,337.3 371.6,332.3 373.0,326.6 374.1,344.5 375.2,330.3 376.9,327.2 378.5,320.7 382.0,305.0 387.0,340.9 392.5,319.4 397.6,316.4 402.6,341.5 408.3,357.5 416.5,353.3 421.7,278.4 423.6,296.2 428.8,312.0 438.0,417.2 444.4,329.6 448.5,250.3 449.7,247.8 451.0,255.3 455.4,322.4 459.9,370.4 464.4,343.4 470.8,316.4 477.2,331.4 482.3,261.5 487.1,264.6 490.7,287.9 493.5,300.4 499.0,327.4 515.6,240.2 532.3,286.3 561.9,232.7" fill="none" stroke="#7fdc4e" stroke-width="1.25" stroke-linejoin="round"/><line x1="312.6" y1="296.4" x2="335.9" y2="296.4" stroke="#7fdc4e" stroke-width="1.15" /><line x1="324.5" y1="365.6" x2="324.5" y2="252.7" stroke="#7fdc4e" stroke-width="1.15" /><line x1="333.5" y1="340.7" x2="336.6" y2="340.7" stroke="#7fdc4e" stroke-width="1.15" /><line x1="335.5" y1="462.6" x2="335.5" y2="285.5" stroke="#7fdc4e" stroke-width="1.15" /><line x1="336.6" y1="426.7" x2="338.8" y2="426.7" stroke="#7fdc4e" stroke-width="1.15" /><line x1="338.5" y1="462.6" x2="338.5" y2="375.8" stroke="#7fdc4e" stroke-width="1.15" /><line x1="338.8" y1="449.8" x2="340.5" y2="449.8" stroke="#7fdc4e" stroke-width="1.15" /><line x1="339.5" y1="449.8" x2="339.5" y2="449.8" stroke="#7fdc4e" stroke-width="1.15" /><line x1="340.5" y1="395.7" x2="342.0" y2="395.7" stroke="#7fdc4e" stroke-width="1.15" /><line x1="341.5" y1="462.6" x2="341.5" y2="367.4" stroke="#7fdc4e" stroke-width="1.15" /><line x1="342.0" y1="443.9" x2="343.4" y2="443.9" stroke="#7fdc4e" stroke-width="1.15" /><line x1="342.5" y1="443.9" x2="342.5" y2="443.9" stroke="#7fdc4e" stroke-width="1.15" /><line x1="343.4" y1="415.9" x2="344.6" y2="415.9" stroke="#7fdc4e" stroke-width="1.15" /><line x1="344.5" y1="462.6" x2="344.5" y2="376.3" stroke="#7fdc4e" stroke-width="1.15" /><line x1="344.6" y1="403.4" x2="345.8" y2="403.4" stroke="#7fdc4e" stroke-width="1.15" /><line x1="345.5" y1="403.4" x2="345.5" y2="403.4" stroke="#7fdc4e" stroke-width="1.15" /><line x1="345.8" y1="430.8" x2="346.9" y2="430.8" stroke="#7fdc4e" stroke-width="1.15" /><line x1="346.5" y1="462.6" x2="346.5" y2="356.3" stroke="#7fdc4e" stroke-width="1.15" /><line x1="346.9" y1="399.1" x2="348.1" y2="399.1" stroke="#7fdc4e" stroke-width="1.15" /><line x1="347.5" y1="399.1" x2="347.5" y2="399.1" stroke="#7fdc4e" stroke-width="1.15" /><line x1="348.1" y1="438.9" x2="349.1" y2="438.9" stroke="#7fdc4e" stroke-width="1.15" /><line x1="348.5" y1="462.6" x2="348.5" y2="400.0" stroke="#7fdc4e" stroke-width="1.15" /><line x1="349.1" y1="449.4" x2="349.9" y2="449.4" stroke="#7fdc4e" stroke-width="1.15" /><line x1="349.5" y1="449.4" x2="349.5" y2="449.4" stroke="#7fdc4e" stroke-width="1.15" /><line x1="349.9" y1="410.2" x2="351.0" y2="410.2" stroke="#7fdc4e" stroke-width="1.15" /><line x1="350.5" y1="462.6" x2="350.5" y2="397.5" stroke="#7fdc4e" stroke-width="1.15" /><line x1="351.0" y1="395.3" x2="352.4" y2="395.3" stroke="#7fdc4e" stroke-width="1.15" /><line x1="351.5" y1="395.3" x2="351.5" y2="395.3" stroke="#7fdc4e" stroke-width="1.15" /><line x1="352.4" y1="415.8" x2="353.6" y2="415.8" stroke="#7fdc4e" stroke-width="1.15" /><line x1="353.5" y1="462.6" x2="353.5" y2="399.2" stroke="#7fdc4e" stroke-width="1.15" /><line x1="353.6" y1="437.3" x2="354.4" y2="437.3" stroke="#7fdc4e" stroke-width="1.15" /><line x1="354.5" y1="437.3" x2="354.5" y2="437.3" stroke="#7fdc4e" stroke-width="1.15" /><line x1="354.4" y1="427.5" x2="355.4" y2="427.5" stroke="#7fdc4e" stroke-width="1.15" /><line x1="354.5" y1="462.6" x2="354.5" y2="349.8" stroke="#7fdc4e" stroke-width="1.15" /><line x1="355.4" y1="399.2" x2="356.4" y2="399.2" stroke="#7fdc4e" stroke-width="1.15" /><line x1="355.5" y1="399.2" x2="355.5" y2="399.2" stroke="#7fdc4e" stroke-width="1.15" /><line x1="356.4" y1="396.6" x2="357.4" y2="396.6" stroke="#7fdc4e" stroke-width="1.15" /><line x1="357.5" y1="462.6" x2="357.5" y2="354.2" stroke="#7fdc4e" stroke-width="1.15" /><line x1="357.4" y1="440.9" x2="358.3" y2="440.9" stroke="#7fdc4e" stroke-width="1.15" /><line x1="357.5" y1="440.9" x2="357.5" y2="440.9" stroke="#7fdc4e" stroke-width="1.15" /><line x1="358.3" y1="410.9" x2="359.1" y2="410.9" stroke="#7fdc4e" stroke-width="1.15" /><line x1="358.5" y1="462.6" x2="358.5" y2="399.4" stroke="#7fdc4e" stroke-width="1.15" /><line x1="359.1" y1="398.6" x2="359.9" y2="398.6" stroke="#7fdc4e" stroke-width="1.15" /><line x1="359.5" y1="398.6" x2="359.5" y2="398.6" stroke="#7fdc4e" stroke-width="1.15" /><line x1="359.9" y1="432.8" x2="360.9" y2="432.8" stroke="#7fdc4e" stroke-width="1.15" /><line x1="360.5" y1="462.6" x2="360.5" y2="372.1" stroke="#7fdc4e" stroke-width="1.15" /><line x1="360.9" y1="412.7" x2="362.1" y2="412.7" stroke="#7fdc4e" stroke-width="1.15" /><line x1="361.5" y1="412.7" x2="361.5" y2="412.7" stroke="#7fdc4e" stroke-width="1.15" /><line x1="362.1" y1="373.7" x2="363.1" y2="373.7" stroke="#7fdc4e" stroke-width="1.15" /><line x1="362.5" y1="462.6" x2="362.5" y2="304.7" stroke="#7fdc4e" stroke-width="1.15" /><line x1="363.1" y1="402.0" x2="363.9" y2="402.0" stroke="#7fdc4e" stroke-width="1.15" /><line x1="363.5" y1="462.6" x2="363.5" y2="272.0" stroke="#7fdc4e" stroke-width="1.15" /><line x1="363.9" y1="367.1" x2="364.7" y2="367.1" stroke="#7fdc4e" stroke-width="1.15" /><line x1="364.5" y1="462.6" x2="364.5" y2="284.1" stroke="#7fdc4e" stroke-width="1.15" /><line x1="364.7" y1="365.0" x2="365.6" y2="365.0" stroke="#7fdc4e" stroke-width="1.15" /><line x1="365.5" y1="462.6" x2="365.5" y2="270.4" stroke="#7fdc4e" stroke-width="1.15" /><line x1="365.6" y1="368.8" x2="366.6" y2="368.8" stroke="#7fdc4e" stroke-width="1.15" /><line x1="366.5" y1="462.6" x2="366.5" y2="244.2" stroke="#7fdc4e" stroke-width="1.15" /><line x1="366.6" y1="370.7" x2="367.7" y2="370.7" stroke="#7fdc4e" stroke-width="1.15" /><line x1="367.5" y1="462.6" x2="367.5" y2="253.9" stroke="#7fdc4e" stroke-width="1.15" /><line x1="367.7" y1="372.6" x2="368.9" y2="372.6" stroke="#7fdc4e" stroke-width="1.15" /><line x1="368.5" y1="462.6" x2="368.5" y2="262.6" stroke="#7fdc4e" stroke-width="1.15" /><line x1="368.9" y1="364.5" x2="369.9" y2="364.5" stroke="#7fdc4e" stroke-width="1.15" /><line x1="369.5" y1="462.6" x2="369.5" y2="263.8" stroke="#7fdc4e" stroke-width="1.15" /><line x1="369.9" y1="337.3" x2="371.1" y2="337.3" stroke="#7fdc4e" stroke-width="1.15" /><line x1="370.5" y1="462.6" x2="370.5" y2="285.7" stroke="#7fdc4e" stroke-width="1.15" /><line x1="371.1" y1="332.3" x2="372.3" y2="332.3" stroke="#7fdc4e" stroke-width="1.15" /><line x1="371.5" y1="462.6" x2="371.5" y2="282.1" stroke="#7fdc4e" stroke-width="1.15" /><line x1="372.3" y1="326.6" x2="373.6" y2="326.6" stroke="#7fdc4e" stroke-width="1.15" /><line x1="373.5" y1="462.6" x2="373.5" y2="261.8" stroke="#7fdc4e" stroke-width="1.15" /><line x1="373.6" y1="344.5" x2="374.6" y2="344.5" stroke="#7fdc4e" stroke-width="1.15" /><line x1="374.5" y1="462.6" x2="374.5" y2="280.3" stroke="#7fdc4e" stroke-width="1.15" /><line x1="374.6" y1="330.3" x2="376.0" y2="330.3" stroke="#7fdc4e" stroke-width="1.15" /><line x1="375.5" y1="462.6" x2="375.5" y2="301.4" stroke="#7fdc4e" stroke-width="1.15" /><line x1="376.0" y1="327.2" x2="377.8" y2="327.2" stroke="#7fdc4e" stroke-width="1.15" /><line x1="376.5" y1="462.6" x2="376.5" y2="256.8" stroke="#7fdc4e" stroke-width="1.15" /><line x1="377.8" y1="320.7" x2="380.4" y2="320.7" stroke="#7fdc4e" stroke-width="1.15" /><line x1="378.5" y1="462.6" x2="378.5" y2="262.3" stroke="#7fdc4e" stroke-width="1.15" /><line x1="380.4" y1="305.0" x2="384.6" y2="305.0" stroke="#7fdc4e" stroke-width="1.15" /><line x1="382.5" y1="462.6" x2="382.5" y2="262.3" stroke="#7fdc4e" stroke-width="1.15" /><line x1="384.6" y1="340.9" x2="389.9" y2="340.9" stroke="#7fdc4e" stroke-width="1.15" /><line x1="387.5" y1="462.6" x2="387.5" y2="290.4" stroke="#7fdc4e" stroke-width="1.15" /><line x1="389.9" y1="319.4" x2="395.1" y2="319.4" stroke="#7fdc4e" stroke-width="1.15" /><line x1="392.5" y1="462.6" x2="392.5" y2="290.4" stroke="#7fdc4e" stroke-width="1.15" /><line x1="395.1" y1="316.4" x2="400.1" y2="316.4" stroke="#7fdc4e" stroke-width="1.15" /><line x1="397.5" y1="462.6" x2="397.5" y2="299.9" stroke="#7fdc4e" stroke-width="1.15" /><line x1="400.1" y1="341.5" x2="405.5" y2="341.5" stroke="#7fdc4e" stroke-width="1.15" /><line x1="402.5" y1="462.6" x2="402.5" y2="319.4" stroke="#7fdc4e" stroke-width="1.15" /><line x1="405.5" y1="357.5" x2="412.4" y2="357.5" stroke="#7fdc4e" stroke-width="1.15" /><line x1="408.5" y1="462.6" x2="408.5" y2="307.4" stroke="#7fdc4e" stroke-width="1.15" /><line x1="412.4" y1="353.3" x2="419.1" y2="353.3" stroke="#7fdc4e" stroke-width="1.15" /><line x1="416.5" y1="462.6" x2="416.5" y2="322.4" stroke="#7fdc4e" stroke-width="1.15" /><line x1="419.1" y1="278.4" x2="422.6" y2="278.4" stroke="#7fdc4e" stroke-width="1.15" /><line x1="421.5" y1="462.6" x2="421.5" y2="250.3" stroke="#7fdc4e" stroke-width="1.15" /><line x1="422.6" y1="296.2" x2="426.4" y2="296.2" stroke="#7fdc4e" stroke-width="1.15" /><line x1="423.5" y1="462.6" x2="423.5" y2="250.3" stroke="#7fdc4e" stroke-width="1.15" /><line x1="426.4" y1="312.0" x2="433.6" y2="312.0" stroke="#7fdc4e" stroke-width="1.15" /><line x1="428.5" y1="462.6" x2="428.5" y2="274.4" stroke="#7fdc4e" stroke-width="1.15" /><line x1="433.6" y1="417.2" x2="441.0" y2="417.2" stroke="#7fdc4e" stroke-width="1.15" /><line x1="438.5" y1="462.6" x2="438.5" y2="355.2" stroke="#7fdc4e" stroke-width="1.15" /><line x1="441.0" y1="329.6" x2="445.3" y2="329.6" stroke="#7fdc4e" stroke-width="1.15" /><line x1="444.5" y1="462.6" x2="444.5" y2="300.4" stroke="#7fdc4e" stroke-width="1.15" /><line x1="447.6" y1="250.3" x2="449.6" y2="250.3" stroke="#7fdc4e" stroke-width="1.15" /><line x1="448.5" y1="300.4" x2="448.5" y2="233.3" stroke="#7fdc4e" stroke-width="1.15" /><line x1="449.6" y1="247.8" x2="451.4" y2="247.8" stroke="#7fdc4e" stroke-width="1.15" /><line x1="449.5" y1="290.4" x2="449.5" y2="233.3" stroke="#7fdc4e" stroke-width="1.15" /><line x1="449.6" y1="255.3" x2="451.4" y2="255.3" stroke="#7fdc4e" stroke-width="1.15" /><line x1="451.5" y1="330.4" x2="451.5" y2="233.3" stroke="#7fdc4e" stroke-width="1.15" /><line x1="454.0" y1="322.4" x2="457.8" y2="322.4" stroke="#7fdc4e" stroke-width="1.15" /><line x1="455.5" y1="462.6" x2="455.5" y2="255.1" stroke="#7fdc4e" stroke-width="1.15" /><line x1="457.8" y1="370.4" x2="462.2" y2="370.4" stroke="#7fdc4e" stroke-width="1.15" /><line x1="459.5" y1="462.6" x2="459.5" y2="299.1" stroke="#7fdc4e" stroke-width="1.15" /><line x1="462.2" y1="343.4" x2="467.6" y2="343.4" stroke="#7fdc4e" stroke-width="1.15" /><line x1="464.5" y1="462.6" x2="464.5" y2="295.4" stroke="#7fdc4e" stroke-width="1.15" /><line x1="467.6" y1="316.4" x2="473.7" y2="316.4" stroke="#7fdc4e" stroke-width="1.15" /><line x1="470.5" y1="462.6" x2="470.5" y2="294.4" stroke="#7fdc4e" stroke-width="1.15" /><line x1="473.7" y1="331.4" x2="479.6" y2="331.4" stroke="#7fdc4e" stroke-width="1.15" /><line x1="477.5" y1="462.6" x2="477.5" y2="286.4" stroke="#7fdc4e" stroke-width="1.15" /><line x1="479.6" y1="261.5" x2="484.7" y2="261.5" stroke="#7fdc4e" stroke-width="1.15" /><line x1="482.5" y1="310.4" x2="482.5" y2="251.1" stroke="#7fdc4e" stroke-width="1.15" /><line x1="484.7" y1="264.6" x2="488.9" y2="264.6" stroke="#7fdc4e" stroke-width="1.15" /><line x1="487.5" y1="289.4" x2="487.5" y2="252.7" stroke="#7fdc4e" stroke-width="1.15" /><line x1="488.9" y1="287.9" x2="492.4" y2="287.9" stroke="#7fdc4e" stroke-width="1.15" /><line x1="490.5" y1="462.6" x2="490.5" y2="263.8" stroke="#7fdc4e" stroke-width="1.15" /><line x1="492.4" y1="300.4" x2="496.5" y2="300.4" stroke="#7fdc4e" stroke-width="1.15" /><line x1="493.5" y1="462.6" x2="493.5" y2="270.3" stroke="#7fdc4e" stroke-width="1.15" /><line x1="496.5" y1="327.4" x2="507.3" y2="327.4" stroke="#7fdc4e" stroke-width="1.15" /><line x1="499.5" y1="462.6" x2="499.5" y2="284.7" stroke="#7fdc4e" stroke-width="1.15" /><line x1="502.8" y1="240.2" x2="528.3" y2="240.2" stroke="#7fdc4e" stroke-width="1.15" /><line x1="515.5" y1="246.3" x2="515.5" y2="232.3" stroke="#7fdc4e" stroke-width="1.15" /><line x1="527.5" y1="286.3" x2="537.6" y2="286.3" stroke="#7fdc4e" stroke-width="1.15" /><line x1="532.5" y1="462.6" x2="532.5" y2="249.5" stroke="#7fdc4e" stroke-width="1.15" /><line x1="537.6" y1="232.7" x2="586.8" y2="232.7" stroke="#7fdc4e" stroke-width="1.15" /><line x1="561.5" y1="240.3" x2="561.5" y2="225.3" stroke="#7fdc4e" stroke-width="1.15" /><polyline points="324.3,454.6 335.2,447.7 338.0,429.0 339.6,449.6 341.3,427.9 342.7,452.1 344.1,425.9 345.2,440.3 346.4,437.4 347.5,412.7 348.6,439.6 349.5,420.3 350.3,426.7 351.7,440.8 353.1,412.4 354.0,449.7 354.8,433.3 355.9,443.0 357.0,428.4 357.9,442.7 358.7,443.9 359.5,452.7 360.4,447.9 361.5,447.6 362.6,427.0 363.5,422.8 364.3,425.0 365.1,427.5 366.0,416.9 367.1,449.9 368.3,432.8 369.4,445.0 370.5,425.8 371.6,429.2 373.0,414.0 374.1,427.4 375.2,452.1 376.9,452.6 378.5,446.6 382.0,448.6 387.0,452.6 392.5,450.6 397.6,452.6 402.6,450.6 408.3,447.6 416.5,449.8 421.7,449.3 423.6,446.6 428.8,445.0 438.0,457.3 444.4,424.6 448.5,420.5 449.7,445.6 451.0,435.6 455.4,457.6 459.9,430.6 464.4,452.6 470.8,456.6 477.2,440.6 482.3,458.6 487.1,458.6 490.7,415.5 493.5,457.3 499.0,458.1 515.6,462.1 532.3,449.8 561.9,462.4" fill="none" stroke="#dc2626" stroke-width="1.25" stroke-linejoin="round"/><line x1="312.6" y1="454.6" x2="335.9" y2="454.6" stroke="#dc2626" stroke-width="1.15" /><line x1="324.5" y1="462.6" x2="324.5" y2="422.8" stroke="#dc2626" stroke-width="1.15" /><line x1="333.5" y1="447.7" x2="336.6" y2="447.7" stroke="#dc2626" stroke-width="1.15" /><line x1="335.5" y1="462.6" x2="335.5" y2="430.1" stroke="#dc2626" stroke-width="1.15" /><line x1="336.6" y1="429.0" x2="338.8" y2="429.0" stroke="#dc2626" stroke-width="1.15" /><line x1="338.5" y1="462.6" x2="338.5" y2="414.7" stroke="#dc2626" stroke-width="1.15" /><line x1="338.8" y1="449.6" x2="340.5" y2="449.6" stroke="#dc2626" stroke-width="1.15" /><line x1="339.5" y1="449.6" x2="339.5" y2="449.6" stroke="#dc2626" stroke-width="1.15" /><line x1="340.5" y1="427.9" x2="342.0" y2="427.9" stroke="#dc2626" stroke-width="1.15" /><line x1="341.5" y1="462.6" x2="341.5" y2="414.3" stroke="#dc2626" stroke-width="1.15" /><line x1="342.0" y1="452.1" x2="343.4" y2="452.1" stroke="#dc2626" stroke-width="1.15" /><line x1="342.5" y1="452.1" x2="342.5" y2="452.1" stroke="#dc2626" stroke-width="1.15" /><line x1="343.4" y1="425.9" x2="344.6" y2="425.9" stroke="#dc2626" stroke-width="1.15" /><line x1="344.5" y1="462.6" x2="344.5" y2="404.1" stroke="#dc2626" stroke-width="1.15" /><line x1="344.6" y1="440.3" x2="345.8" y2="440.3" stroke="#dc2626" stroke-width="1.15" /><line x1="345.5" y1="440.3" x2="345.5" y2="440.3" stroke="#dc2626" stroke-width="1.15" /><line x1="345.8" y1="437.4" x2="346.9" y2="437.4" stroke="#dc2626" stroke-width="1.15" /><line x1="346.5" y1="462.6" x2="346.5" y2="401.7" stroke="#dc2626" stroke-width="1.15" /><line x1="346.9" y1="412.7" x2="348.1" y2="412.7" stroke="#dc2626" stroke-width="1.15" /><line x1="347.5" y1="412.7" x2="347.5" y2="412.7" stroke="#dc2626" stroke-width="1.15" /><line x1="348.1" y1="439.6" x2="349.1" y2="439.6" stroke="#dc2626" stroke-width="1.15" /><line x1="348.5" y1="462.6" x2="348.5" y2="403.7" stroke="#dc2626" stroke-width="1.15" /><line x1="349.1" y1="420.3" x2="349.9" y2="420.3" stroke="#dc2626" stroke-width="1.15" /><line x1="349.5" y1="420.3" x2="349.5" y2="420.3" stroke="#dc2626" stroke-width="1.15" /><line x1="349.9" y1="426.7" x2="351.0" y2="426.7" stroke="#dc2626" stroke-width="1.15" /><line x1="350.5" y1="462.6" x2="350.5" y2="359.0" stroke="#dc2626" stroke-width="1.15" /><line x1="351.0" y1="440.8" x2="352.4" y2="440.8" stroke="#dc2626" stroke-width="1.15" /><line x1="351.5" y1="440.8" x2="351.5" y2="440.8" stroke="#dc2626" stroke-width="1.15" /><line x1="352.4" y1="412.4" x2="353.6" y2="412.4" stroke="#dc2626" stroke-width="1.15" /><line x1="353.5" y1="462.6" x2="353.5" y2="397.3" stroke="#dc2626" stroke-width="1.15" /><line x1="353.6" y1="449.7" x2="354.4" y2="449.7" stroke="#dc2626" stroke-width="1.15" /><line x1="354.5" y1="449.7" x2="354.5" y2="449.7" stroke="#dc2626" stroke-width="1.15" /><line x1="354.4" y1="433.3" x2="355.4" y2="433.3" stroke="#dc2626" stroke-width="1.15" /><line x1="354.5" y1="462.6" x2="354.5" y2="408.2" stroke="#dc2626" stroke-width="1.15" /><line x1="355.4" y1="443.0" x2="356.4" y2="443.0" stroke="#dc2626" stroke-width="1.15" /><line x1="355.5" y1="443.0" x2="355.5" y2="443.0" stroke="#dc2626" stroke-width="1.15" /><line x1="356.4" y1="428.4" x2="357.4" y2="428.4" stroke="#dc2626" stroke-width="1.15" /><line x1="357.5" y1="462.6" x2="357.5" y2="407.5" stroke="#dc2626" stroke-width="1.15" /><line x1="357.4" y1="442.7" x2="358.3" y2="442.7" stroke="#dc2626" stroke-width="1.15" /><line x1="357.5" y1="442.7" x2="357.5" y2="442.7" stroke="#dc2626" stroke-width="1.15" /><line x1="358.3" y1="443.9" x2="359.1" y2="443.9" stroke="#dc2626" stroke-width="1.15" /><line x1="358.5" y1="462.6" x2="358.5" y2="419.2" stroke="#dc2626" stroke-width="1.15" /><line x1="359.1" y1="452.7" x2="359.9" y2="452.7" stroke="#dc2626" stroke-width="1.15" /><line x1="359.5" y1="452.7" x2="359.5" y2="452.7" stroke="#dc2626" stroke-width="1.15" /><line x1="359.9" y1="447.9" x2="360.9" y2="447.9" stroke="#dc2626" stroke-width="1.15" /><line x1="360.5" y1="462.6" x2="360.5" y2="428.7" stroke="#dc2626" stroke-width="1.15" /><line x1="360.9" y1="447.6" x2="362.1" y2="447.6" stroke="#dc2626" stroke-width="1.15" /><line x1="361.5" y1="447.6" x2="361.5" y2="447.6" stroke="#dc2626" stroke-width="1.15" /><line x1="362.1" y1="427.0" x2="363.1" y2="427.0" stroke="#dc2626" stroke-width="1.15" /><line x1="362.5" y1="462.6" x2="362.5" y2="404.5" stroke="#dc2626" stroke-width="1.15" /><line x1="363.1" y1="422.8" x2="363.9" y2="422.8" stroke="#dc2626" stroke-width="1.15" /><line x1="363.5" y1="422.8" x2="363.5" y2="422.8" stroke="#dc2626" stroke-width="1.15" /><line x1="363.9" y1="425.0" x2="364.7" y2="425.0" stroke="#dc2626" stroke-width="1.15" /><line x1="364.5" y1="462.6" x2="364.5" y2="359.0" stroke="#dc2626" stroke-width="1.15" /><line x1="364.7" y1="427.5" x2="365.6" y2="427.5" stroke="#dc2626" stroke-width="1.15" /><line x1="365.5" y1="427.5" x2="365.5" y2="427.5" stroke="#dc2626" stroke-width="1.15" /><line x1="365.6" y1="416.9" x2="366.6" y2="416.9" stroke="#dc2626" stroke-width="1.15" /><line x1="366.5" y1="462.6" x2="366.5" y2="387.6" stroke="#dc2626" stroke-width="1.15" /><line x1="366.6" y1="449.9" x2="367.7" y2="449.9" stroke="#dc2626" stroke-width="1.15" /><line x1="367.5" y1="449.9" x2="367.5" y2="449.9" stroke="#dc2626" stroke-width="1.15" /><line x1="367.7" y1="432.8" x2="368.9" y2="432.8" stroke="#dc2626" stroke-width="1.15" /><line x1="368.5" y1="462.6" x2="368.5" y2="406.6" stroke="#dc2626" stroke-width="1.15" /><line x1="368.9" y1="445.0" x2="369.9" y2="445.0" stroke="#dc2626" stroke-width="1.15" /><line x1="369.5" y1="445.0" x2="369.5" y2="445.0" stroke="#dc2626" stroke-width="1.15" /><line x1="369.9" y1="425.8" x2="371.1" y2="425.8" stroke="#dc2626" stroke-width="1.15" /><line x1="370.5" y1="462.6" x2="370.5" y2="411.1" stroke="#dc2626" stroke-width="1.15" /><line x1="371.1" y1="429.2" x2="372.3" y2="429.2" stroke="#dc2626" stroke-width="1.15" /><line x1="371.5" y1="429.2" x2="371.5" y2="429.2" stroke="#dc2626" stroke-width="1.15" /><line x1="372.3" y1="414.0" x2="373.6" y2="414.0" stroke="#dc2626" stroke-width="1.15" /><line x1="373.5" y1="462.6" x2="373.5" y2="397.1" stroke="#dc2626" stroke-width="1.15" /><line x1="373.6" y1="427.4" x2="374.6" y2="427.4" stroke="#dc2626" stroke-width="1.15" /><line x1="374.5" y1="427.4" x2="374.5" y2="427.4" stroke="#dc2626" stroke-width="1.15" /><line x1="374.6" y1="452.1" x2="376.0" y2="452.1" stroke="#dc2626" stroke-width="1.15" /><line x1="375.5" y1="462.6" x2="375.5" y2="418.7" stroke="#dc2626" stroke-width="1.15" /><line x1="376.0" y1="452.6" x2="377.8" y2="452.6" stroke="#dc2626" stroke-width="1.15" /><line x1="376.5" y1="452.6" x2="376.5" y2="452.6" stroke="#dc2626" stroke-width="1.15" /><line x1="377.8" y1="446.6" x2="380.4" y2="446.6" stroke="#dc2626" stroke-width="1.15" /><line x1="378.5" y1="462.6" x2="378.5" y2="420.5" stroke="#dc2626" stroke-width="1.15" /><line x1="380.4" y1="448.6" x2="384.6" y2="448.6" stroke="#dc2626" stroke-width="1.15" /><line x1="382.5" y1="462.6" x2="382.5" y2="425.6" stroke="#dc2626" stroke-width="1.15" /><line x1="384.6" y1="452.6" x2="389.9" y2="452.6" stroke="#dc2626" stroke-width="1.15" /><line x1="387.5" y1="462.6" x2="387.5" y2="430.6" stroke="#dc2626" stroke-width="1.15" /><line x1="389.9" y1="450.6" x2="395.1" y2="450.6" stroke="#dc2626" stroke-width="1.15" /><line x1="392.5" y1="462.6" x2="392.5" y2="432.6" stroke="#dc2626" stroke-width="1.15" /><line x1="395.1" y1="452.6" x2="400.1" y2="452.6" stroke="#dc2626" stroke-width="1.15" /><line x1="397.5" y1="462.6" x2="397.5" y2="430.6" stroke="#dc2626" stroke-width="1.15" /><line x1="400.1" y1="450.6" x2="405.5" y2="450.6" stroke="#dc2626" stroke-width="1.15" /><line x1="402.5" y1="462.6" x2="402.5" y2="405.3" stroke="#dc2626" stroke-width="1.15" /><line x1="405.5" y1="447.6" x2="412.4" y2="447.6" stroke="#dc2626" stroke-width="1.15" /><line x1="408.5" y1="462.6" x2="408.5" y2="410.5" stroke="#dc2626" stroke-width="1.15" /><line x1="412.4" y1="449.8" x2="419.1" y2="449.8" stroke="#dc2626" stroke-width="1.15" /><line x1="416.5" y1="462.6" x2="416.5" y2="430.9" stroke="#dc2626" stroke-width="1.15" /><line x1="419.1" y1="449.3" x2="422.6" y2="449.3" stroke="#dc2626" stroke-width="1.15" /><line x1="421.5" y1="462.6" x2="421.5" y2="386.9" stroke="#dc2626" stroke-width="1.15" /><line x1="422.6" y1="446.6" x2="426.4" y2="446.6" stroke="#dc2626" stroke-width="1.15" /><line x1="423.5" y1="462.6" x2="423.5" y2="400.5" stroke="#dc2626" stroke-width="1.15" /><line x1="426.4" y1="445.0" x2="433.6" y2="445.0" stroke="#dc2626" stroke-width="1.15" /><line x1="428.5" y1="462.6" x2="428.5" y2="410.1" stroke="#dc2626" stroke-width="1.15" /><line x1="433.6" y1="457.3" x2="441.0" y2="457.3" stroke="#dc2626" stroke-width="1.15" /><line x1="438.5" y1="462.6" x2="438.5" y2="440.6" stroke="#dc2626" stroke-width="1.15" /><line x1="441.0" y1="424.6" x2="445.3" y2="424.6" stroke="#dc2626" stroke-width="1.15" /><line x1="444.5" y1="462.6" x2="444.5" y2="402.9" stroke="#dc2626" stroke-width="1.15" /><line x1="447.6" y1="420.5" x2="449.6" y2="420.5" stroke="#dc2626" stroke-width="1.15" /><line x1="448.5" y1="462.6" x2="448.5" y2="390.5" stroke="#dc2626" stroke-width="1.15" /><line x1="449.6" y1="445.6" x2="451.4" y2="445.6" stroke="#dc2626" stroke-width="1.15" /><line x1="449.5" y1="462.6" x2="449.5" y2="400.5" stroke="#dc2626" stroke-width="1.15" /><line x1="449.6" y1="435.6" x2="451.4" y2="435.6" stroke="#dc2626" stroke-width="1.15" /><line x1="451.5" y1="462.6" x2="451.5" y2="380.5" stroke="#dc2626" stroke-width="1.15" /><line x1="454.0" y1="457.6" x2="457.8" y2="457.6" stroke="#dc2626" stroke-width="1.15" /><line x1="455.5" y1="462.6" x2="455.5" y2="430.6" stroke="#dc2626" stroke-width="1.15" /><line x1="457.8" y1="430.6" x2="462.2" y2="430.6" stroke="#dc2626" stroke-width="1.15" /><line x1="459.5" y1="462.6" x2="459.5" y2="400.5" stroke="#dc2626" stroke-width="1.15" /><line x1="462.2" y1="452.6" x2="467.6" y2="452.6" stroke="#dc2626" stroke-width="1.15" /><line x1="464.5" y1="462.6" x2="464.5" y2="428.6" stroke="#dc2626" stroke-width="1.15" /><line x1="467.6" y1="456.6" x2="473.7" y2="456.6" stroke="#dc2626" stroke-width="1.15" /><line x1="470.5" y1="462.6" x2="470.5" y2="440.6" stroke="#dc2626" stroke-width="1.15" /><line x1="473.7" y1="440.6" x2="479.6" y2="440.6" stroke="#dc2626" stroke-width="1.15" /><line x1="477.5" y1="462.6" x2="477.5" y2="400.5" stroke="#dc2626" stroke-width="1.15" /><line x1="479.6" y1="458.6" x2="484.7" y2="458.6" stroke="#dc2626" stroke-width="1.15" /><line x1="482.5" y1="462.6" x2="482.5" y2="445.6" stroke="#dc2626" stroke-width="1.15" /><line x1="484.7" y1="458.6" x2="488.9" y2="458.6" stroke="#dc2626" stroke-width="1.15" /><line x1="487.5" y1="462.6" x2="487.5" y2="440.6" stroke="#dc2626" stroke-width="1.15" /><line x1="488.9" y1="415.5" x2="492.4" y2="415.5" stroke="#dc2626" stroke-width="1.15" /><line x1="490.5" y1="462.6" x2="490.5" y2="380.5" stroke="#dc2626" stroke-width="1.15" /><line x1="492.4" y1="457.3" x2="496.5" y2="457.3" stroke="#dc2626" stroke-width="1.15" /><line x1="493.5" y1="462.6" x2="493.5" y2="412.5" stroke="#dc2626" stroke-width="1.15" /><line x1="496.5" y1="458.1" x2="507.3" y2="458.1" stroke="#dc2626" stroke-width="1.15" /><line x1="499.5" y1="462.6" x2="499.5" y2="417.2" stroke="#dc2626" stroke-width="1.15" /><line x1="502.8" y1="462.1" x2="528.3" y2="462.1" stroke="#dc2626" stroke-width="1.15" /><line x1="515.5" y1="462.6" x2="515.5" y2="458.6" stroke="#dc2626" stroke-width="1.15" /><line x1="527.5" y1="449.8" x2="537.6" y2="449.8" stroke="#dc2626" stroke-width="1.15" /><line x1="532.5" y1="462.6" x2="532.5" y2="393.8" stroke="#dc2626" stroke-width="1.15" /><line x1="537.6" y1="462.4" x2="586.8" y2="462.4" stroke="#dc2626" stroke-width="1.15" /><line x1="561.5" y1="462.6" x2="561.5" y2="459.6" stroke="#dc2626" stroke-width="1.15" /></g>
<g id="frame"><rect x="38.5" y="1.75" width="548.5" height="460.85" fill="none" stroke="#000" stroke-width="1.65"/><line x1="312.80" y1="1.75" x2="312.80" y2="462.60" stroke="#000" stroke-width="1.65"/><line x1="38.50" y1="232.10" x2="587.00" y2="232.10" stroke="#000" stroke-width="1.65"/></g>
<g id="legend"><line x1="194.8" y1="24.8" x2="212.60000000000002" y2="24.8" stroke="#111" stroke-width="1"/><text x="217.3" y="29.4" font-size="10" font-weight="bold">Total</text><line x1="194.8" y1="48.2" x2="212.60000000000002" y2="48.2" stroke="#2b2ba6" stroke-width="1"/><text x="217.3" y="52.8" font-size="10" font-weight="bold">C&#160;&#160;(alpha=-0.7)</text><line x1="194.8" y1="71.7" x2="212.60000000000002" y2="71.7" stroke="#dc2626" stroke-width="1"/><text x="217.3" y="76.3" font-size="10" font-weight="bold">BB</text><line x1="194.8" y1="95.1" x2="212.60000000000002" y2="95.1" stroke="#7fdc4e" stroke-width="1"/><text x="217.3" y="99.7" font-size="10" font-weight="bold">PL (index=-1.5)</text><line x1="472.4" y1="24.8" x2="490.2" y2="24.8" stroke="#111" stroke-width="1"/><text x="495" y="29.4" font-size="10" font-weight="bold">Total</text><line x1="472.4" y1="48.2" x2="490.2" y2="48.2" stroke="#2b2ba6" stroke-width="1"/><text x="495" y="52.8" font-size="10" font-weight="bold">C&#160;&#160;(alpha=-0.7)</text><line x1="472.4" y1="71.7" x2="490.2" y2="71.7" stroke="#dc2626" stroke-width="1"/><text x="495" y="76.3" font-size="10" font-weight="bold">BB</text><line x1="472.4" y1="95.1" x2="490.2" y2="95.1" stroke="#7fdc4e" stroke-width="1"/><text x="495" y="99.7" font-size="10" font-weight="bold">PL (index=-1.5)</text></g>
<g id="labels"><text transform="translate(35.9,212.4) scale(1.0,1)" font-size="12.1" text-anchor="end" font-weight="normal" >2</text><text transform="translate(589.9,212.9) scale(1.0,1)" font-size="12.1" text-anchor="start" font-weight="normal" >2</text><text transform="translate(35.9,188.1) scale(1.0,1)" font-size="12.1" text-anchor="end" font-weight="normal" >4</text><text transform="translate(589.9,188.6) scale(1.0,1)" font-size="12.1" text-anchor="start" font-weight="normal" >4</text><text transform="translate(35.9,163.9) scale(1.0,1)" font-size="12.1" text-anchor="end" font-weight="normal" >6</text><text transform="translate(589.9,164.4) scale(1.0,1)" font-size="12.1" text-anchor="start" font-weight="normal" >6</text><text transform="translate(35.9,139.6) scale(1.0,1)" font-size="12.1" text-anchor="end" font-weight="normal" >8</text><text transform="translate(589.9,140.1) scale(1.0,1)" font-size="12.1" text-anchor="start" font-weight="normal" >8</text><text transform="translate(35.9,115.3) scale(1.0,1)" font-size="12.1" text-anchor="end" font-weight="normal" >10</text><text transform="translate(589.9,115.8) scale(1.0,1)" font-size="12.1" text-anchor="start" font-weight="normal" >10</text><text transform="translate(35.9,91.0) scale(1.0,1)" font-size="12.1" text-anchor="end" font-weight="normal" >12</text><text transform="translate(589.9,91.5) scale(1.0,1)" font-size="12.1" text-anchor="start" font-weight="normal" >12</text><text transform="translate(35.9,66.7) scale(1.0,1)" font-size="12.1" text-anchor="end" font-weight="normal" >14</text><text transform="translate(589.9,67.2) scale(1.0,1)" font-size="12.1" text-anchor="start" font-weight="normal" >14</text><text transform="translate(35.9,42.5) scale(1.0,1)" font-size="12.1" text-anchor="end" font-weight="normal" >16</text><text transform="translate(589.9,43.0) scale(1.0,1)" font-size="12.1" text-anchor="start" font-weight="normal" >16</text><text transform="translate(35.9,18.2) scale(1.0,1)" font-size="12.1" text-anchor="end" font-weight="normal" >18</text><text transform="translate(589.9,18.7) scale(1.0,1)" font-size="12.1" text-anchor="start" font-weight="normal" >18</text><text transform="translate(35.9,231.6) scale(1.0,1)" font-size="12.1" text-anchor="end" font-weight="normal" >0</text><text transform="translate(589.9,232.3) scale(1.0,1)" font-size="12.1" text-anchor="start" font-weight="normal" >0</text><text transform="translate(35.9,444.2) scale(1.0,1)" font-size="12.1" text-anchor="end" font-weight="normal" >0.1</text><text transform="translate(589.9,444.7) scale(1.0,1)" font-size="12.1" text-anchor="start" font-weight="normal" >0.1</text><text transform="translate(35.9,421.1) scale(1.0,1)" font-size="12.1" text-anchor="end" font-weight="normal" >0.2</text><text transform="translate(589.9,421.6) scale(1.0,1)" font-size="12.1" text-anchor="start" font-weight="normal" >0.2</text><text transform="translate(35.9,398.1) scale(1.0,1)" font-size="12.1" text-anchor="end" font-weight="normal" >0.3</text><text transform="translate(589.9,398.6) scale(1.0,1)" font-size="12.1" text-anchor="start" font-weight="normal" >0.3</text><text transform="translate(35.9,375.1) scale(1.0,1)" font-size="12.1" text-anchor="end" font-weight="normal" >0.4</text><text transform="translate(589.9,375.6) scale(1.0,1)" font-size="12.1" text-anchor="start" font-weight="normal" >0.4</text><text transform="translate(35.9,352.1) scale(1.0,1)" font-size="12.1" text-anchor="end" font-weight="normal" >0.5</text><text transform="translate(589.9,352.6) scale(1.0,1)" font-size="12.1" text-anchor="start" font-weight="normal" >0.5</text><text transform="translate(35.9,329.0) scale(1.0,1)" font-size="12.1" text-anchor="end" font-weight="normal" >0.6</text><text transform="translate(589.9,329.5) scale(1.0,1)" font-size="12.1" text-anchor="start" font-weight="normal" >0.6</text><text transform="translate(35.9,306.0) scale(1.0,1)" font-size="12.1" text-anchor="end" font-weight="normal" >0.7</text><text transform="translate(589.9,306.5) scale(1.0,1)" font-size="12.1" text-anchor="start" font-weight="normal" >0.7</text><text transform="translate(35.9,283.0) scale(1.0,1)" font-size="12.1" text-anchor="end" font-weight="normal" >0.8</text><text transform="translate(589.9,283.5) scale(1.0,1)" font-size="12.1" text-anchor="start" font-weight="normal" >0.8</text><text transform="translate(35.9,259.9) scale(1.0,1)" font-size="12.1" text-anchor="end" font-weight="normal" >0.9</text><text transform="translate(589.9,260.4) scale(1.0,1)" font-size="12.1" text-anchor="start" font-weight="normal" >0.9</text><text transform="translate(35.9,242.1) scale(1.0,1)" font-size="12.1" text-anchor="end" font-weight="normal" >1.0</text><text transform="translate(589.9,242.8) scale(1.0,1)" font-size="12.1" text-anchor="start" font-weight="normal" >1.0</text><text transform="translate(35.9,462.1) scale(1.0,1)" font-size="12.1" text-anchor="end" font-weight="normal" >0</text><text transform="translate(589.9,462.8) scale(1.0,1)" font-size="12.1" text-anchor="start" font-weight="normal" >0</text><text transform="translate(38.9,474.3) scale(1.0,1)" font-size="12.1" text-anchor="middle" font-weight="normal" >0</text><text transform="translate(77.5,474.3) scale(1.0,1)" font-size="12.1" text-anchor="middle" font-weight="normal" >10</text><text transform="translate(116.1,474.3) scale(1.0,1)" font-size="12.1" text-anchor="middle" font-weight="normal" >20</text><text transform="translate(154.7,474.3) scale(1.0,1)" font-size="12.1" text-anchor="middle" font-weight="normal" >30</text><text transform="translate(193.3,474.3) scale(1.0,1)" font-size="12.1" text-anchor="middle" font-weight="normal" >40</text><text transform="translate(231.9,474.3) scale(1.0,1)" font-size="12.1" text-anchor="middle" font-weight="normal" >50</text><text transform="translate(270.5,474.3) scale(1.0,1)" font-size="12.1" text-anchor="middle" font-weight="normal" >60</text><text transform="translate(303.0,474.3) scale(1.0,1)" font-size="12.1" text-anchor="middle" font-weight="normal" >70</text><text transform="translate(313.8,474.3) scale(1.0,1)" font-size="12.1" text-anchor="middle" font-weight="normal" >0</text><text transform="translate(340.2,474.3) scale(1.0,1)" font-size="12.1" text-anchor="middle" font-weight="normal" >2</text><text transform="translate(367.6,474.3) scale(1.0,1)" font-size="12.1" text-anchor="middle" font-weight="normal" >4</text><text transform="translate(395.1,474.3) scale(1.0,1)" font-size="12.1" text-anchor="middle" font-weight="normal" >6</text><text transform="translate(422.5,474.3) scale(1.0,1)" font-size="12.1" text-anchor="middle" font-weight="normal" >8</text><text transform="translate(449.9,474.3) scale(1.0,1)" font-size="12.1" text-anchor="middle" font-weight="normal" >10</text><text transform="translate(477.3,474.3) scale(1.0,1)" font-size="12.1" text-anchor="middle" font-weight="normal" >12</text><text transform="translate(504.7,474.3) scale(1.0,1)" font-size="12.1" text-anchor="middle" font-weight="normal" >14</text><text transform="translate(532.2,474.3) scale(1.0,1)" font-size="12.1" text-anchor="middle" font-weight="normal" >16</text><text transform="translate(559.6,474.3) scale(1.0,1)" font-size="12.1" text-anchor="middle" font-weight="normal" >18</text><text transform="translate(584.3,474.3) scale(1.0,1)" font-size="12.1" text-anchor="middle" font-weight="normal" >20</text><text x="320.5" y="488.0" font-size="12.3" text-anchor="middle" font-weight="normal" textLength="138" lengthAdjust="spacingAndGlyphs">Time since GBM trigger (s)</text><g transform="translate(10.8,226) rotate(-90) scale(0.9628,1)"><text font-size="12">[8 keV – 100 MeV] Flux (x10<tspan font-size="8.5" dy="-4.5">-6</tspan><tspan dy="4.5"> erg.cm</tspan><tspan font-size="8.5" dy="-4.5">-2</tspan><tspan dy="4.5">.s</tspan><tspan font-size="8.5" dy="-4.5">-1</tspan><tspan dy="4.5">)</tspan></text></g><g transform="translate(615,6.6) rotate(90) scale(0.9496,1)"><text font-size="12">[8 keV – 100 MeV] Flux (x10<tspan font-size="8.5" dy="-4.5">-5</tspan><tspan dy="4.5"> erg.cm</tspan><tspan font-size="8.5" dy="-4.5">-2</tspan><tspan dy="4.5">.s</tspan><tspan font-size="8.5" dy="-4.5">-1</tspan><tspan dy="4.5">)</tspan></text></g><g transform="translate(11.3,419.5) rotate(-90) scale(0.9898,1)"><text font-size="12">Flux<tspan font-size="9" dy="3.5">Component</tspan><tspan dy="-3.5">/Flux</tspan><tspan font-size="9" dy="3.5">Tot</tspan><tspan dy="-3.5"> (erg/erg)</tspan></text></g><g transform="translate(615.5,270.7) rotate(90) scale(0.9515,1)"><text font-size="12">Flux<tspan font-size="9" dy="3.5">Component</tspan><tspan dy="-3.5">/Flux</tspan><tspan font-size="9" dy="3.5">Tot</tspan><tspan dy="-3.5"> (erg/erg)</tspan></text></g><text x="77.3" y="19.0" font-size="12" text-anchor="start" font-weight="bold" textLength="72.2" lengthAdjust="spacingAndGlyphs">GRB 080916C</text><text x="340.5" y="19.0" font-size="12" text-anchor="start" font-weight="bold" textLength="72" lengthAdjust="spacingAndGlyphs">GRB 090926A</text><text x="292.5" y="20.0" font-size="12" text-anchor="middle" font-weight="normal" >(a1)</text><text x="565.0" y="20.0" font-size="12" text-anchor="middle" font-weight="normal" >(b1)</text><text x="292.5" y="250.5" font-size="12" text-anchor="middle" font-weight="normal" >(a2)</text><text x="565.0" y="250.5" font-size="12" text-anchor="middle" font-weight="normal" >(b2)</text></g>
</svg>
</body></html>
